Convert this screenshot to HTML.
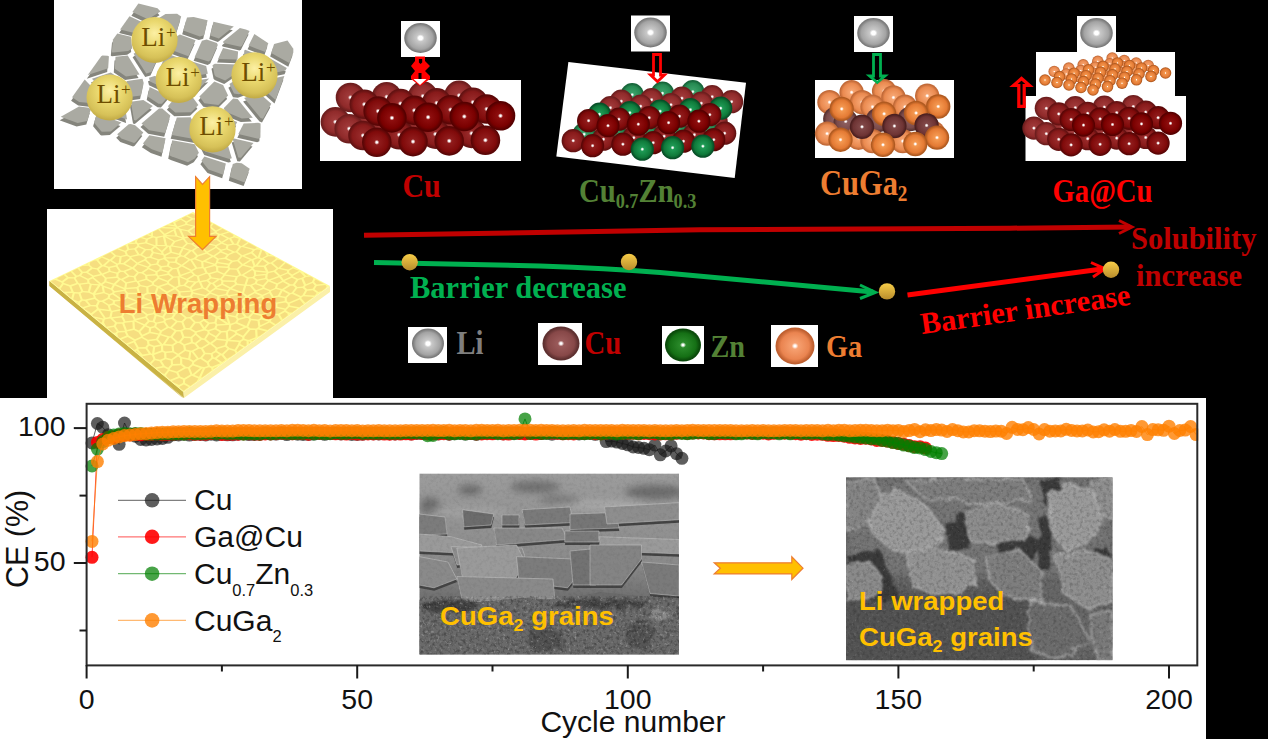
<!DOCTYPE html>
<html><head><meta charset="utf-8"><style>
html,body{margin:0;padding:0;background:#000;width:1268px;height:739px;overflow:hidden}
svg{display:block}
text{font-family:"Liberation Sans",sans-serif}
.serif{font-family:"Liberation Serif",serif}
</style></head><body>
<svg width="1268" height="739" viewBox="0 0 1268 739">
<defs><radialGradient id="lig" cx="0.5" cy="0.38" r="0.6" fx="0.5" fy="0.35"><stop offset="0" stop-color="#fcf0a4"/><stop offset="0.45" stop-color="#ead86e"/><stop offset="0.85" stop-color="#d6c158"/><stop offset="1" stop-color="#c4ad48"/></radialGradient><radialGradient id="cu0" cx="0.5" cy="0.5" r="0.5"><stop offset="0" stop-color="#ffffff"/><stop offset="0.05" stop-color="#ffffff"/><stop offset="0.17" stop-color="#8e0e0e"/><stop offset="0.72" stop-color="#7a0000"/><stop offset="0.93" stop-color="#560000"/><stop offset="1" stop-color="#560000"/></radialGradient><radialGradient id="cu1" cx="0.5" cy="0.5" r="0.5"><stop offset="0" stop-color="#ffffff"/><stop offset="0.05" stop-color="#ffffff"/><stop offset="0.17" stop-color="#901c1c"/><stop offset="0.72" stop-color="#800a0a"/><stop offset="0.93" stop-color="#5a0606"/><stop offset="1" stop-color="#5a0606"/></radialGradient><radialGradient id="cu2" cx="0.5" cy="0.5" r="0.5"><stop offset="0" stop-color="#ffffff"/><stop offset="0.05" stop-color="#ffffff"/><stop offset="0.17" stop-color="#982a2a"/><stop offset="0.72" stop-color="#881a1a"/><stop offset="0.93" stop-color="#641212"/><stop offset="1" stop-color="#641212"/></radialGradient><radialGradient id="cu3" cx="0.5" cy="0.5" r="0.5"><stop offset="0" stop-color="#ffffff"/><stop offset="0.05" stop-color="#ffffff"/><stop offset="0.17" stop-color="#a03a3a"/><stop offset="0.72" stop-color="#902a2a"/><stop offset="0.93" stop-color="#6e1e1e"/><stop offset="1" stop-color="#6e1e1e"/></radialGradient><radialGradient id="zn0" cx="0.5" cy="0.5" r="0.5"><stop offset="0" stop-color="#ffffff"/><stop offset="0.05" stop-color="#ffffff"/><stop offset="0.17" stop-color="#1e9a55"/><stop offset="0.72" stop-color="#0f7a3a"/><stop offset="0.93" stop-color="#075028"/><stop offset="1" stop-color="#075028"/></radialGradient><radialGradient id="zn1" cx="0.5" cy="0.5" r="0.5"><stop offset="0" stop-color="#ffffff"/><stop offset="0.05" stop-color="#ffffff"/><stop offset="0.17" stop-color="#3aa068"/><stop offset="0.72" stop-color="#268a52"/><stop offset="0.93" stop-color="#16653a"/><stop offset="1" stop-color="#16653a"/></radialGradient><radialGradient id="ga0" cx="0.5" cy="0.5" r="0.5"><stop offset="0" stop-color="#ffffff"/><stop offset="0.05" stop-color="#ffffff"/><stop offset="0.17" stop-color="#f49850"/><stop offset="0.72" stop-color="#e47a34"/><stop offset="0.93" stop-color="#b05a20"/><stop offset="1" stop-color="#b05a20"/></radialGradient><radialGradient id="ga1" cx="0.5" cy="0.5" r="0.5"><stop offset="0" stop-color="#ffffff"/><stop offset="0.05" stop-color="#ffffff"/><stop offset="0.17" stop-color="#f6a470"/><stop offset="0.72" stop-color="#ea8a50"/><stop offset="0.93" stop-color="#c26a38"/><stop offset="1" stop-color="#c26a38"/></radialGradient><radialGradient id="br0" cx="0.5" cy="0.5" r="0.5"><stop offset="0" stop-color="#ffffff"/><stop offset="0.05" stop-color="#ffffff"/><stop offset="0.17" stop-color="#804848"/><stop offset="0.72" stop-color="#6e3434"/><stop offset="0.93" stop-color="#4c2020"/><stop offset="1" stop-color="#4c2020"/></radialGradient><radialGradient id="br1" cx="0.5" cy="0.5" r="0.5"><stop offset="0" stop-color="#ffffff"/><stop offset="0.05" stop-color="#ffffff"/><stop offset="0.17" stop-color="#8c5e5e"/><stop offset="0.72" stop-color="#7a4a4a"/><stop offset="0.93" stop-color="#5a3434"/><stop offset="1" stop-color="#5a3434"/></radialGradient><radialGradient id="li" cx="0.5" cy="0.5" r="0.5"><stop offset="0" stop-color="#fff"/><stop offset="0.12" stop-color="#fff"/><stop offset="0.24" stop-color="#c8c8c8"/><stop offset="0.75" stop-color="#a4a4a4"/><stop offset="0.95" stop-color="#7a7a7a"/><stop offset="1" stop-color="#7a7a7a"/></radialGradient><radialGradient id="licu" cx="0.5" cy="0.5" r="0.5"><stop offset="0" stop-color="#ffffff"/><stop offset="0.05" stop-color="#ffffff"/><stop offset="0.17" stop-color="#9a5a5a"/><stop offset="0.72" stop-color="#874848"/><stop offset="0.93" stop-color="#5e3030"/><stop offset="1" stop-color="#5e3030"/></radialGradient><radialGradient id="lizn" cx="0.5" cy="0.5" r="0.5"><stop offset="0" stop-color="#ffffff"/><stop offset="0.05" stop-color="#ffffff"/><stop offset="0.17" stop-color="#2a8a2a"/><stop offset="0.72" stop-color="#157015"/><stop offset="0.93" stop-color="#0a4a0a"/><stop offset="1" stop-color="#0a4a0a"/></radialGradient><radialGradient id="liga" cx="0.5" cy="0.5" r="0.5"><stop offset="0" stop-color="#ffffff"/><stop offset="0.05" stop-color="#ffffff"/><stop offset="0.17" stop-color="#f6a070"/><stop offset="0.72" stop-color="#ea8450"/><stop offset="0.93" stop-color="#c06030"/><stop offset="1" stop-color="#c06030"/></radialGradient><linearGradient id="gold" x1="0" y1="0" x2="0" y2="1"><stop offset="0" stop-color="#f7cd48"/><stop offset="1" stop-color="#b88c2c"/></linearGradient><clipPath id="sem1c"><rect x="419.3" y="473.4" width="259.7" height="181.2"/></clipPath>
<filter id="blur3" x="-50%" y="-50%" width="200%" height="200%"><feGaussianBlur stdDeviation="3.5"/></filter>
<filter id="blur1"><feGaussianBlur stdDeviation="0.6"/></filter>
<filter id="noise1" x="0" y="0" width="100%" height="100%"><feTurbulence type="fractalNoise" baseFrequency="0.3" numOctaves="3" seed="3"/><feColorMatrix type="matrix" values="0 0 0 0 0  0 0 0 0 0  0 0 0 0 0  0 0 0 -2.6 1.45"/><feGaussianBlur stdDeviation="0.5"/></filter>
<filter id="noiseL" x="0" y="0" width="100%" height="100%"><feTurbulence type="fractalNoise" baseFrequency="0.35" numOctaves="3" seed="21"/><feColorMatrix type="matrix" values="0 0 0 0 1  0 0 0 0 1  0 0 0 0 1  0 0 0 -3.2 1.3"/><feGaussianBlur stdDeviation="0.5"/></filter>
<filter id="rough" x="-20%" y="-20%" width="140%" height="140%"><feTurbulence type="fractalNoise" baseFrequency="0.12" numOctaves="2" seed="5" result="t"/><feDisplacementMap in="SourceGraphic" in2="t" scale="9"/><feGaussianBlur stdDeviation="0.9"/></filter>
<linearGradient id="sem1g" x1="0" y1="0" x2="0" y2="1"><stop offset="0" stop-color="#9c9c9c"/><stop offset="0.3" stop-color="#929292"/><stop offset="0.5" stop-color="#8a8a8a"/><stop offset="0.7" stop-color="#6e6e6e"/><stop offset="1" stop-color="#6a6a6a"/></linearGradient><clipPath id="sem2c"><rect x="846" y="477.3" width="266.6" height="182.9"/></clipPath>
<filter id="rough2" x="-30%" y="-30%" width="160%" height="160%"><feTurbulence type="fractalNoise" baseFrequency="0.08" numOctaves="3" seed="8" result="t"/><feDisplacementMap in="SourceGraphic" in2="t" scale="10"/><feGaussianBlur stdDeviation="1.0"/></filter>
<filter id="blur2" x="-50%" y="-50%" width="200%" height="200%"><feGaussianBlur stdDeviation="5"/></filter></defs>
<rect width="1268" height="739" fill="#000"/>
<rect x="54" y="0" width="248" height="189" fill="#fff"/><g fill="#85857d"><polygon points="146.9,22.9 159.5,15.2 156.5,11.8 137.4,7.2 131.4,15.7"/><polygon points="119.1,33.1 132.3,36.3 143.4,28.8 143.6,26.8 128.5,19.8"/><polygon points="116.3,37.1 112,43.1 110.8,55.8 112,56.2 127.2,54.7 131.2,52.1 129.9,40.4"/><polygon points="86.8,78.7 107.2,71.9 107.9,59.8 106.5,59.3 101.4,59.2 100.2,59.8"/><polygon points="103.1,95.4 108.5,94.8 119.7,82.8 109.8,76 90.9,82.4"/><polygon points="83.7,83.1 71.1,100.8 78.2,105.6 88.6,106.7 97.5,97.7"/><polygon points="59.8,120.3 60.1,120.6 76.6,126.5 86.3,124.5 89.6,113.6 88.1,111.3 78,110.2"/><polygon points="176.1,17.4 164.5,17.6 149.9,26.6 149.7,28.5 167.7,38.8 175.9,34.3 180.2,20.2"/><polygon points="136.3,39.6 137.6,50.6 160.6,50.4 163.9,42.6 146.5,32.6"/><polygon points="145.2,77.1 150.5,75.5 159.6,55 135.8,55.1 132.6,57.3"/><polygon points="114.5,60.4 113.8,72.4 125,80.1 138.6,78 126.7,59.2"/><polygon points="141.5,82.3 126.1,84.6 115.4,96.3 126.5,100.9 140.1,99 142.7,86.6"/><polygon points="94.3,109.6 95.8,112 126,123 126.1,123 122.9,104.7 110.1,99.3 103.7,100"/><polygon points="109.8,135.1 120.4,126.1 95.8,117 93.1,126.3 100.4,135 101.5,135.4"/><polygon points="186,21.2 182.2,34.2 198.8,40.1 203.2,38.8 206.6,23.9 192.6,20.5"/><polygon points="170.2,43 166.5,52 187.4,59.8 194.6,43.9 178.9,38.2"/><polygon points="157.3,75.5 173.3,77.8 183.3,63.6 165.4,56.8"/><polygon points="148,81.3 149,85.2 172,96 176.7,93.6 174.9,84.9 173,82.5 153.5,79.6"/><polygon points="146.7,100.1 157.6,107.3 160.9,107.4 167.7,99.6 148.6,90.6"/><polygon points="134.8,124 151.8,109.7 142.3,103.5 129.8,105.3 133,123.5"/><polygon points="116.2,137.8 120.4,142.1 133.1,146.6 134.7,145.7 142.3,136 134.1,128.8 129.8,127.6 127.7,127.8"/><polygon points="209.3,39 217.9,42 232.8,30.2 212.4,25.3"/><polygon points="200.9,44.4 193.6,60.8 207.6,65 210.2,63.4 216.8,48.6 215.9,46.6 205.6,43"/><polygon points="178.7,80.4 179.7,81.5 206.8,77.4 205.2,69.5 189.6,64.7"/><polygon points="208.2,82.2 181.7,86.1 183.2,93.1 193.4,96.8"/><polygon points="190.1,115.8 197.4,108.7 192.2,101.7 180.6,97.5 174.7,100.6 166.9,109.8 174.3,116.2"/><polygon points="161.3,112.2 158,112.1 140.5,127.1 148.2,133.8 164.2,136.7 169.4,119.2"/><polygon points="164.6,141.8 148.4,138.8 141.9,147.2 150.8,152.9 161.5,156.7"/><polygon points="222,45.3 222.5,46.5 239.6,50.4 241.2,49.2 248.6,34.6 244.8,33 238.9,31.6"/><polygon points="222,51.5 217.1,62.6 236.5,63.2 237.1,55"/><polygon points="237.7,68.2 213.8,67.3 211.5,68.8 213.5,78.5 214.7,80.1 224.2,84 241.5,72.3"/><polygon points="198.4,100.2 203.3,106.8 217.4,108.6 227.1,99 222.1,88.7 213.3,85.1"/><polygon points="212.2,134 218.8,117.2 216.7,113.6 202.8,111.8 195.7,118.9 204,135.9"/><polygon points="170.7,138.7 194.4,142.9 198.4,138.5 189.7,120.8 175.8,121.1"/><polygon points="193.7,162.2 197.9,156.4 193.7,147.9 171.2,143.8 168.2,158.8 170.8,160 187.1,165.8"/><polygon points="264.3,55.6 267.3,46.8 253.4,37.6 247.6,49.2"/><polygon points="242.6,65 247.5,70.4 249.7,70.8 260.1,59.6 244.2,53.4 243.3,54.1"/><polygon points="246.5,75.4 228.4,87.7 233,97.2 237.9,97.8 255.7,91.4 256.6,82.8 249.3,75.9"/><polygon points="232.1,102.2 222.7,111.8 224.7,115.4 240.8,122 251.8,121.4 236.6,102.7"/><polygon points="236.2,125.7 224.3,120.8 219,134.8 227.7,138 230.2,137.2"/><polygon points="204.2,155 228.4,162.6 230.8,161.9 225,142.5 215,138.8 204.3,141.4 199.8,146.4"/><polygon points="207.5,173.1 222.2,178.3 224.9,167 203.4,160.1 200.4,164.3"/><polygon points="292.3,52.4 286.5,44.1 273.1,47.7 270.2,56.5 288.3,66.7 292.3,56.1"/><polygon points="266.6,60.6 254.9,73.5 260.9,79.1 284.5,74.2 285.8,71.5"/><polygon points="261.9,92.3 274.5,103.6 283.4,79.7 262.7,84"/><polygon points="243.1,101.6 259.5,121.6 262,122.4 270.3,107.4 257.9,96.3"/><polygon points="257.2,126.4 242.7,127.1 237.3,137.7 257.1,142.3 259.4,141.3 259.6,127.1"/><polygon points="233.2,142.1 231.7,142.5 237.3,161.2 239.9,161.4 252.5,146.6"/><polygon points="228.8,180.7 243.6,186 248.7,172.4 240.7,166.8 235.6,166.4 231.8,167.5"/></g><g fill="#aaaaa2"><polygon points="147.9,19.3 160.5,11.6 157.5,8.2 138.4,3.6 132.4,12.1"/><polygon points="120.1,29.5 133.3,32.7 144.4,25.2 144.6,23.2 129.5,16.2"/><polygon points="117.3,33.5 113,39.5 111.8,52.2 113,52.6 128.2,51.1 132.2,48.5 130.9,36.8"/><polygon points="87.8,75.1 108.2,68.3 108.9,56.2 107.5,55.7 102.4,55.6 101.2,56.2"/><polygon points="104.1,91.8 109.5,91.2 120.7,79.2 110.8,72.4 91.9,78.8"/><polygon points="84.7,79.5 72.1,97.2 79.2,102 89.6,103.1 98.5,94.1"/><polygon points="60.8,116.7 61.1,117 77.6,122.9 87.3,120.9 90.6,110 89.1,107.7 79,106.6"/><polygon points="177.1,13.8 165.5,14 150.9,23 150.7,24.9 168.7,35.2 176.9,30.7 181.2,16.6"/><polygon points="137.3,36 138.6,47 161.6,46.8 164.9,39 147.5,29"/><polygon points="146.2,73.5 151.5,71.9 160.6,51.4 136.8,51.5 133.6,53.7"/><polygon points="115.5,56.8 114.8,68.8 126,76.5 139.6,74.4 127.7,55.6"/><polygon points="142.5,78.7 127.1,81 116.4,92.7 127.5,97.3 141.1,95.4 143.7,83"/><polygon points="95.3,106 96.8,108.4 127,119.4 127.1,119.4 123.9,101.1 111.1,95.7 104.7,96.4"/><polygon points="110.8,131.5 121.4,122.5 96.8,113.4 94.1,122.7 101.4,131.4 102.5,131.8"/><polygon points="187,17.6 183.2,30.6 199.8,36.5 204.2,35.2 207.6,20.3 193.6,16.9"/><polygon points="171.2,39.4 167.5,48.4 188.4,56.2 195.6,40.3 179.9,34.6"/><polygon points="158.3,71.9 174.3,74.2 184.3,60 166.4,53.2"/><polygon points="149,77.7 150,81.6 173,92.4 177.7,90 175.9,81.3 174,78.9 154.5,76"/><polygon points="147.7,96.5 158.6,103.7 161.9,103.8 168.7,96 149.6,87"/><polygon points="135.8,120.4 152.8,106.1 143.3,99.9 130.8,101.7 134,119.9"/><polygon points="117.2,134.2 121.4,138.5 134.1,143 135.7,142.1 143.3,132.4 135.1,125.2 130.8,124 128.7,124.2"/><polygon points="210.3,35.4 218.9,38.4 233.8,26.6 213.4,21.7"/><polygon points="201.9,40.8 194.6,57.2 208.6,61.4 211.2,59.8 217.8,45 216.9,43 206.6,39.4"/><polygon points="179.7,76.8 180.7,77.9 207.8,73.8 206.2,65.9 190.6,61.1"/><polygon points="209.2,78.6 182.7,82.5 184.2,89.5 194.4,93.2"/><polygon points="191.1,112.2 198.4,105.1 193.2,98.1 181.6,93.9 175.7,97 167.9,106.2 175.3,112.6"/><polygon points="162.3,108.6 159,108.5 141.5,123.5 149.2,130.2 165.2,133.1 170.4,115.6"/><polygon points="165.6,138.2 149.4,135.2 142.9,143.6 151.8,149.3 162.5,153.1"/><polygon points="223,41.7 223.5,42.9 240.6,46.8 242.2,45.6 249.6,31 245.8,29.4 239.9,28"/><polygon points="223,47.9 218.1,59 237.5,59.6 238.1,51.4"/><polygon points="238.7,64.6 214.8,63.7 212.5,65.2 214.5,74.9 215.7,76.5 225.2,80.4 242.5,68.7"/><polygon points="199.4,96.6 204.3,103.2 218.4,105 228.1,95.4 223.1,85.1 214.3,81.5"/><polygon points="213.2,130.4 219.8,113.6 217.7,110 203.8,108.2 196.7,115.3 205,132.3"/><polygon points="171.7,135.1 195.4,139.3 199.4,134.9 190.7,117.2 176.8,117.5"/><polygon points="194.7,158.6 198.9,152.8 194.7,144.3 172.2,140.2 169.2,155.2 171.8,156.4 188.1,162.2"/><polygon points="265.3,52 268.3,43.2 254.4,34 248.6,45.6"/><polygon points="243.6,61.4 248.5,66.8 250.7,67.2 261.1,56 245.2,49.8 244.3,50.5"/><polygon points="247.5,71.8 229.4,84.1 234,93.6 238.9,94.2 256.7,87.8 257.6,79.2 250.3,72.3"/><polygon points="233.1,98.6 223.7,108.2 225.7,111.8 241.8,118.4 252.8,117.8 237.6,99.1"/><polygon points="237.2,122.1 225.3,117.2 220,131.2 228.7,134.4 231.2,133.6"/><polygon points="205.2,151.4 229.4,159 231.8,158.3 226,138.9 216,135.2 205.3,137.8 200.8,142.8"/><polygon points="208.5,169.5 223.2,174.7 225.9,163.4 204.4,156.5 201.4,160.7"/><polygon points="293.3,48.8 287.5,40.5 274.1,44.1 271.2,52.9 289.3,63.1 293.3,52.5"/><polygon points="267.6,57 255.9,69.9 261.9,75.5 285.5,70.6 286.8,67.9"/><polygon points="262.9,88.7 275.5,100 284.4,76.1 263.7,80.4"/><polygon points="244.1,98 260.5,118 263,118.8 271.3,103.8 258.9,92.7"/><polygon points="258.2,122.8 243.7,123.5 238.3,134.1 258.1,138.7 260.4,137.7 260.6,123.5"/><polygon points="234.2,138.5 232.7,138.9 238.3,157.6 240.9,157.8 253.5,143"/><polygon points="229.8,177.1 244.6,182.4 249.7,168.8 241.7,163.2 236.6,162.8 232.8,163.9"/></g><circle cx="154.5" cy="40" r="23.1" fill="url(#lig)"/><text class="serif" x="141.3" y="45.6" font-size="27" fill="#6e4e00">Li</text><text class="serif" x="166" y="37.8" font-size="17" fill="#6e4e00">+</text><circle cx="178.7" cy="80" r="23.1" fill="url(#lig)"/><text class="serif" x="165.5" y="85.6" font-size="27" fill="#6e4e00">Li</text><text class="serif" x="190.2" y="77.8" font-size="17" fill="#6e4e00">+</text><circle cx="254.5" cy="75.3" r="23.1" fill="url(#lig)"/><text class="serif" x="241.3" y="80.9" font-size="27" fill="#6e4e00">Li</text><text class="serif" x="266" y="73.1" font-size="17" fill="#6e4e00">+</text><circle cx="109.6" cy="97.5" r="23.1" fill="url(#lig)"/><text class="serif" x="96.4" y="103.1" font-size="27" fill="#6e4e00">Li</text><text class="serif" x="121.1" y="95.3" font-size="17" fill="#6e4e00">+</text><circle cx="212.5" cy="129.4" r="23.1" fill="url(#lig)"/><text class="serif" x="199.3" y="135" font-size="27" fill="#6e4e00">Li</text><text class="serif" x="224" y="127.2" font-size="17" fill="#6e4e00">+</text><rect x="47" y="209" width="286" height="189" fill="#fff"/><polygon points="49.5,281 183.5,398 183.5,398 181.5,397 49.5,286" fill="#d9c255"/><polygon points="49.5,281 183.5,392 184,398 49.5,286" fill="#c9b244"/><polygon points="183.5,392 330,286 330,292 184,398" fill="#fbf0a8"/><polygon points="193,212 330,286 183.5,392 49.5,281" fill="#fffa92"/><g fill="#f6de80"><polygon points="174.2,225.1 173,222.5 172.9,222.5 169.1,224.3"/><polygon points="150.8,233.1 148.5,234.3 150.8,235"/><polygon points="130.8,242.8 135.1,242.5 134.7,241.1 134.4,241"/><polygon points="87.7,263.5 85.7,264.5 87.7,264.4"/><polygon points="193.4,213 193,212.8 192.8,212.9"/><polygon points="193,218.2 194.4,218.2 198.6,215.9 198.1,215.5 191.2,213.7 187.5,215.4"/><polygon points="181.8,218.8 186.4,221.4 191,218.8 185.9,216.2 181.8,218.2"/><polygon points="185.3,222.4 180.7,219.8 175.2,222.5 176.8,225.7 177.6,226.5 185.1,224.1"/><polygon points="175.6,227.6 176.1,227.4 175.1,226.5 167.2,225.2 163.2,227.1"/><polygon points="159.9,229 164.8,233.7 173.5,229.2 174.1,228.7 161,228.2 160.3,228.5"/><polygon points="158.1,229.6 153,232 153,235.8 153.5,236.3 156.3,236.8 163.2,235.5 163.3,235.3 163.4,234.8"/><polygon points="151.2,236.4 146.8,235.1 142.4,237.2 146.8,238.4 151.4,236.6"/><polygon points="136.8,241 137.4,242.8 138.1,243.2 145,242.2 145.8,239.4 140.7,238 138.4,239.1"/><polygon points="137.3,246.1 136.8,244.2 136,243.7 128.4,244.2 127.9,244.8 129.2,248.7 134.3,248.2"/><polygon points="126,245.5 124.8,245.6 118.9,248.5 125.1,250.7 127.2,249.3"/><polygon points="116,255.3 120.4,256 125.7,254.7 124.5,251.9 117.3,249.3 112,251.8"/><polygon points="109.9,259.6 114.1,255.8 110.4,252.6 102.7,256.3 102.6,256.4 102.6,256.4"/><polygon points="98.3,259.9 102.6,265.1 102.9,265.1 108.1,260.4 101.8,257.6"/><polygon points="97,268.3 100.7,265.6 96.4,260.4 94.2,260.4 90,262.5 89.8,264.9 92.7,267.4"/><polygon points="82.8,271.7 86,271.5 90.7,267.8 88.3,265.7 82.4,266.1 79.2,267.7"/><polygon points="76.6,275.5 79,274.9 81,272.4 77.6,268.4 72.2,271"/><polygon points="65.6,274.5 68.5,277 73.9,277.2 75,276.3 70.6,271.8 65.9,274.1"/><polygon points="66.7,277.5 63.8,275.1 63.8,275.1 58.2,277.7 57,279 62,281.1"/><polygon points="55.4,279.9 52.5,280.5 51,281.2 57.7,286.7 59,287.4 61.9,283.4 61.4,282.4"/><polygon points="196.3,218.9 199.5,221.9 205.2,220.4 199.7,216.9"/><polygon points="194.8,225.7 197.6,223.9 197.9,222.7 194.3,219.4 193,219.4 187.5,222.5 187.3,224.1"/><polygon points="178.4,227.6 180.5,228.8 187.7,230.2 193.3,226.6 186.3,225.1"/><polygon points="177,228.5 176.8,228.6 175.5,229.7 177.5,235.7 182.4,237.2 178.9,229.6"/><polygon points="165.7,234.9 175.2,235.4 173.7,230.8"/><polygon points="164.8,245 162.9,236.8 157.5,237.9 157.6,244.9"/><polygon points="155.3,237.9 153.1,237.4 148,239.4 147.2,242.4 155.1,245.3 155.5,245.1"/><polygon points="153.8,246.2 145.9,243.4 139.1,244.4 139.4,246.1 145.7,249.1 150.6,248.9"/><polygon points="140.2,254.2 144,249.8 138.6,247.3 136.2,249 139.4,254.1"/><polygon points="137.3,254.3 134.3,249.5 129,250.1 126.6,251.8 127.9,254.8 130.2,255.9"/><polygon points="129.6,258 129.1,256.9 126.8,255.9 121.7,257.1 120.9,263 123.1,263.1"/><polygon points="117.3,263.4 118.7,263.1 119.5,257.1 116,256.6 111.9,260.3"/><polygon points="110.1,261 105.2,265.6 108.8,266.7 115.6,265.3 116,264.4"/><polygon points="102.2,273.5 108.5,271 107.8,267.9 103.5,266.5 102.6,266.5 98.8,269.2"/><polygon points="93.4,275.6 100.2,274 96.8,269.6 92.6,268.7 88.1,272.2"/><polygon points="81.2,275.4 88,278.8 91.7,277 92,276.5 86.4,272.9 83,273.1"/><polygon points="79.4,283.5 87.4,282.5 87.1,280 79.8,276.3 77,277 75.7,278.2 78.6,283.1"/><polygon points="76.4,283 73.8,278.6 68.6,278.4 63.5,282.3 63.9,283.1 70.1,285.1"/><polygon points="71.4,291.5 69.3,286.4 63.6,284.5 60.7,288.6 60.8,289.3 63.8,291.8 64.5,291.8"/><polygon points="200,223 199.8,223.7 209.9,225.4 212,223.3 207,221.2"/><polygon points="200.2,229.6 209.3,226.8 209.3,226.5 199,224.8 196.5,226.4"/><polygon points="195,227.4 189.4,230.9 193.5,234.4 198.5,233.2 198.7,230.5"/><polygon points="191.8,235.2 187.4,231.3 181.5,230.3 184.6,237.2 191.7,235.2"/><polygon points="166.2,236.2 174.7,240.7 182,238.5 176.2,236.6"/><polygon points="165.2,237.3 167.1,245.2 168.2,245.5 169.7,245.7 170.4,245.5 173.2,241.6"/><polygon points="156.3,246.4 161.8,250.7 166.3,246.4 165.9,246.3 156.9,246.1"/><polygon points="160.9,252.1 155.1,247.5 152.5,249.7 153.8,252 161.4,253.5"/><polygon points="150.5,250.2 146.1,250.3 142.2,254.8 146.4,257.1 149.5,256.6 151.8,252.4"/><polygon points="144.3,259.3 144.9,258 140.4,255.5 138.9,255.4 131.4,257 131.7,258 137.4,262.4"/><polygon points="136.2,263.5 136.2,263.5 130.8,259.3 125.2,263.7 132.4,267.2"/><polygon points="123.3,264.4 120,264.2 118.1,264.7 117.7,265.9 120.8,270.6 123.6,270.7 130.7,268"/><polygon points="117.1,272.5 118.8,271.1 116,266.7 110,267.9 110.6,270.9"/><polygon points="116.2,276.6 116.4,273.7 109.8,272.1 103.4,274.7 106.1,277.4"/><polygon points="101.5,275.2 94.1,277 93.9,277.4 101.2,283.5 104.2,281.2 104.6,278.2"/><polygon points="99.4,284.3 92.6,278.4 89.2,280.1 89.6,282.8 91.2,283.7 99.4,284.3"/><polygon points="87.9,291.3 89.7,284.6 88.4,283.8 80.6,284.8 83.3,290.9"/><polygon points="81.2,291.2 78.4,284.6 77.7,284.3 71.5,286.4 73.7,291.7 74.1,291.9 79,292.3"/><polygon points="72.7,292.9 66.3,293.2 68.3,295.5 71.3,298"/><polygon points="213.7,224.1 211.5,226.2 211.5,226.9 216,230.4 221,227.9 213.9,224.1"/><polygon points="205.5,234.7 214.6,232.3 214.6,231.4 210.1,227.9 200.9,230.7 200.7,233.2"/><polygon points="198.1,240.5 202.4,240.7 204.1,235.6 199.5,234.2 193.8,235.7 193.7,235.8"/><polygon points="184.6,238.6 184.6,238.7 188,242.9 191.5,243.4 196.1,240.9 192,236.5"/><polygon points="182.1,247 186,243.4 183,239.6 175.4,241.9 172.8,245.6"/><polygon points="171.1,246.8 172,251.8 178.9,253.5 181.7,248.3 171.4,246.6"/><polygon points="168.9,246.9 168.4,246.8 163.1,252 163.9,254.1 164.7,254.6 169.8,252"/><polygon points="153.7,253.3 151.7,256.9 158.7,259.2 163.4,257.9 163.5,257.7 163.6,255.7 162.3,255"/><polygon points="151.2,264.3 156.2,263.4 157.5,260.3 150.3,257.9 147.1,258.3 146.4,259.7"/><polygon points="138.7,263.5 147.8,266.5 149.5,265 145,260.7"/><polygon points="141.6,272.1 147.2,268.2 147.2,267.7 137.7,264.6 134.2,268.1 138.8,271.9"/><polygon points="132.5,268.9 125.5,271.7 129.4,275.4 133.8,276 137,272.6"/><polygon points="121.3,278.8 127.4,275.8 123.4,272.1 120.6,271.9 118.6,273.6 118.4,277 120.5,278.5"/><polygon points="118.5,279.1 116.9,277.9 106.7,278.7 106.4,281.2 113.7,283.5"/><polygon points="102.5,284.8 103.3,285.6 111,288.2 112.9,284.7 105.6,282.4"/><polygon points="100.5,285.6 95.3,293.4 102.7,292 101.6,286.3 100.8,285.5"/><polygon points="91.8,285.1 90,291.8 93,293.1 98,285.6"/><polygon points="92.8,294.7 88.5,292.7 82.9,292.3 80.6,293.4 82.7,299.3 85.4,299.5 93.8,297.6"/><polygon points="78.5,293.7 74.8,293.4 73.2,299.2 78.6,301.5 80.7,299.7"/><polygon points="76.3,302.1 78,303.5 78,302.8"/><polygon points="216.8,231.5 216.8,232.4 219.5,233.7 220.7,233.8 227.8,231.7 222.5,228.8"/><polygon points="213.4,239.1 216.3,238.8 217.9,234.5 215.4,233.4 207.5,235.5"/><polygon points="206.1,236.4 204.5,241.2 206.6,243.1 207.1,243.1 211.5,239.8"/><polygon points="197.8,241.7 193.4,244.1 197.5,246.8 201.3,246.8 204.7,243.7 202.7,241.9"/><polygon points="183.9,247.8 191,250 191.9,250 195.6,247.4 191.3,244.6 187.8,244.1"/><polygon points="189.1,250.8 183.5,249.1 180.8,254.3 181.6,255.2 183.6,255.7"/><polygon points="178.9,254.9 171.2,253 165.8,255.8 165.7,257.2 176.4,257.2 179.5,255.5"/><polygon points="165.7,258.5 169.5,261.5 174.8,261.6 175.6,258.5"/><polygon points="166.9,265.4 167.8,262.3 163.9,259.2 159.7,260.4 158.3,263.9 161.3,266.1"/><polygon points="156.7,264.7 151.5,265.6 149.3,267.6 149.4,268.1 156.4,271 159.3,269.3 159.7,267"/><polygon points="146.5,274.7 155.4,274.1 155.4,272.2 148.5,269.3 143.6,272.8"/><polygon points="145.4,278.7 145.1,275.6 141.7,273.4 138.9,273.3 135.6,276.9 137,280.7 137.6,280.9"/><polygon points="134.8,280.6 133.5,277.3 129.2,276.7 123.1,279.7 126.4,282.3"/><polygon points="115.7,284.3 124.3,287.8 125,283.3 120.9,280.1 120.3,279.9"/><polygon points="114.8,285.5 112.9,289.2 114.5,291.1 123.7,289.7 123.8,289.2"/><polygon points="103.9,287.3 104.9,292.2 109.3,294 111.8,293 112.8,291.9 111,289.7"/><polygon points="96,297.9 99.4,300.6 101.8,300.6 107.5,297.7 108.2,295.1 103.9,293.3 95,294.9"/><polygon points="90.9,304.9 95.9,305.1 97.7,301.4 94.7,299 87.2,300.7"/><polygon points="83.1,307 88.8,305.2 85,301 82.4,300.7 80.1,302.8 80.3,305.4 80.6,305.7"/><polygon points="233.3,236.4 233.4,234.7 229.4,232.5 222.7,234.5 229,237.8 229.5,237.7"/><polygon points="227,238.5 220.3,235 219.9,234.9 218.3,239.1 221.7,241.7"/><polygon points="209.3,243.4 215.9,245 220.4,242.7 216.7,240 213.5,240.3"/><polygon points="203.2,247.4 207,251.5 215,247 215,246.1 207.4,244.3 206.7,244.3"/><polygon points="193.8,250.7 197.7,255 205.6,252.6 201.3,248 197.5,248"/><polygon points="190.2,259 190.6,259 193.9,258.1 196,255.9 191.8,251.2 191.3,251.2 185.5,256.4"/><polygon points="181,256.4 177.8,258.2 177,262.1 181.6,264.8 188.3,259.7 183.5,257"/><polygon points="176.9,267.7 180.1,265.7 175.3,263 169.9,262.8 169,265.8 172.8,267.9"/><polygon points="167.5,266.7 161.9,267.4 161.5,269.3 167.9,271.3 171,268.6"/><polygon points="160.6,270.4 157.6,272.2 157.6,274.6 158.4,275.4 167.5,273.6 167.2,272.6"/><polygon points="157.3,277.8 157,276.4 156,275.5 147.3,276 147.5,278.8 152.6,281.5"/><polygon points="147.1,286.2 151.9,284.4 151.7,282.8 146.4,280 138.9,282.1 140.7,284.9"/><polygon points="136.6,282.1 135.9,281.8 127.1,283.6 126.5,287.8 136.7,287 138.7,285.3"/><polygon points="126,289.2 125.8,290.2 128,292.8 137.8,292.7 136.5,288.4"/><polygon points="114.8,292.6 114,293.5 122.6,299.2 126,297 126.2,293.7 124.2,291.1"/><polygon points="114.1,300 120,299.4 112.6,294.5 110.4,295.3 109.7,297.9"/><polygon points="112.6,303.3 112.8,301.1 108.7,299.1 104,301.5 108.8,304.4"/><polygon points="99,308.6 109,309.7 107.7,305.6 102,302.1 99.8,302.1 97.9,305.9"/><polygon points="84.4,308.3 85,309.2 91.1,313.3 96.9,308.8 95.9,306.5 90.7,306.3"/><polygon points="235.5,236.3 237.5,236.9 235.5,235.8"/><polygon points="238.8,238.7 234.4,237.4 231.2,238.6 234.4,243.7 236.3,243.8"/><polygon points="222.9,242.7 227.8,244.5 232.1,243.8 229.1,239 229,239"/><polygon points="226.4,245.5 221.6,243.7 217.2,245.9 217.2,247 221.2,249.6 225.7,248.5"/><polygon points="216,248.1 207.9,252.7 213.4,255.5 219.4,251.4 219.7,250.6"/><polygon points="196.1,258.4 202.4,260.9 203.6,260.6 211.3,256.2 206.6,253.8 198.1,256.4"/><polygon points="197.1,267.5 201.5,267.1 201.2,262 194.6,259.4 192.2,259.9"/><polygon points="190.2,260.3 183.2,265.6 191.5,269.7 195.1,268"/><polygon points="190.3,271.3 190.4,270.9 181.8,266.6 178.6,268.6 180.7,274.8"/><polygon points="178.6,276 178.8,275.8 176.5,269 173,269.2 169.4,272.4 169.7,273.8 173.5,276.4 178.1,276.2"/><polygon points="168.3,274.9 159.2,276.6 159.4,277.6 167.5,280.7 171.7,277.2"/><polygon points="154.1,284.4 158.1,286.1 167,283.1 166.8,282 158.7,278.9 153.9,282.7"/><polygon points="148.4,287.3 148.7,292.5 154.6,293.1 156.7,287.1 153,285.6"/><polygon points="138.5,287.8 140.1,293 143.2,294.6 146.5,292.8 146.2,287.4 140.4,286.2"/><polygon points="137.8,300.7 142.2,297.5 142.2,295.8 138.8,294.1 128.4,294.3 128.2,297"/><polygon points="136.1,301.7 127.3,298.3 124,300.3 125.1,305.6 126.4,305.6"/><polygon points="121.9,300.7 115,301.4 114.7,303.5 121.8,307.4 123.1,306.1"/><polygon points="112,310.7 120.6,309.1 120.8,308.6 113.5,304.7 109.9,305.8 111.4,310.3"/><polygon points="100.5,310.2 105.7,317.7 109.4,317.1 110.6,311.7 109.9,311.3"/><polygon points="98.2,310.2 92.3,314.7 92.5,315.5 93.3,316.2 103.4,318.4 103.8,318.3"/><polygon points="95.9,318.3 100.9,322.5 102,322.2 102.5,319.8"/><polygon points="241,238.9 238.3,244.3 240.9,246 241.7,245.9 247.4,242.3 241.1,238.9"/><polygon points="233.5,244.8 228.5,245.7 227.9,248.6 234.4,251.4 235.8,251.3 239.1,246.8 236.5,245.1"/><polygon points="221.9,250.8 221.7,251.3 228.2,253.9 232.2,252.1 226.5,249.6"/><polygon points="220.6,252.5 215.1,256.3 218.3,258.4 224.6,257.6 226.8,254.9"/><polygon points="213.1,256.9 206,261 214.8,263.7 215.8,262.3 216.7,259.3"/><polygon points="204.1,261.9 203.4,262 203.7,267.2 204.4,267.5 213.5,264.8"/><polygon points="196.9,268.8 192.6,270.9 192.5,271.6 195.3,274.4 197.8,275.4 205.3,272.7 203.4,268.7 202.4,268.3"/><polygon points="180.9,276.3 186.7,278.7 193.1,274.7 191,272.6"/><polygon points="179.6,277.3 180.5,285 183.5,284.7 186.8,281.1 186,280"/><polygon points="173.7,277.8 169,281.8 169.2,283.2 175.3,287.1 178.3,285.5 177.5,277.6"/><polygon points="160.1,287 167,291.6 173.7,288 167.9,284.4"/><polygon points="158.6,288 156.6,293.7 160,295.9 165.3,293.5 165.7,292.7"/><polygon points="144.4,297.4 151.5,300.3 158.8,297.4 158.8,297.1 154.9,294.6 148,293.9 144.4,295.8"/><polygon points="139.3,301.8 141.6,305.6 150.5,302.2 150.5,301.5 143.5,298.7"/><polygon points="139,309.1 140.1,307.2 140,306.8 137.6,302.8 129,306.3 138.2,309.3"/><polygon points="136.6,310.4 126.6,307.1 124.8,307.1 123,308.8 122.7,309.6 124.6,311.6 132.5,314.3"/><polygon points="111.6,317.2 121.2,315.9 122.7,312.2 121.1,310.6 112.7,312.1"/><polygon points="121.4,317.4 112.7,318.6 116.8,322.3 122.6,322.2 123.6,321.7"/><polygon points="110.2,318.6 105.6,319.3 104.7,319.7 104.1,322.8 106.3,326.7 113.7,325.5 115,323.1"/><polygon points="244,246.2 254.4,249 256.5,248.3 256.5,247.2 248.9,243.1"/><polygon points="242.3,255.2 250.8,252.1 252.8,250 242.1,247.1 241.2,247.2 237.7,251.8"/><polygon points="229.1,255.1 226.7,258 232.5,260.6 237.1,260 240.6,256 236,252.6 234.4,252.7"/><polygon points="228.6,263.6 230.7,261.5 225,258.9 218.8,259.6 218.1,262"/><polygon points="216.3,264.9 217.7,266.1 227.4,266.5 227.9,264.9 217.5,263.2 216.3,264.8"/><polygon points="205.7,268.6 207.5,272.5 209,273.1 216.2,271 216,266.9 214.8,265.9"/><polygon points="200.1,281 206.6,279.8 209.6,277.7 208,274.3 206.5,273.8 199,276.6"/><polygon points="195.8,281.4 197.9,281 196.8,276.6 194.6,275.7 188.1,279.7 188.8,280.5"/><polygon points="185.6,285.1 190,287 194.1,282.6 188.6,281.9"/><polygon points="176.6,288.2 179.9,291.2 190.7,290.4 189.4,288.5 183.9,286 179.9,286.5"/><polygon points="178.3,292.2 175,289.2 167.9,292.9 167.5,293.7 174.7,297.6 178.5,295.4"/><polygon points="165.4,302.2 173.5,299.1 173.6,298.8 166.2,294.8 161,297.2 160.9,297.7"/><polygon points="163.4,302.8 159.5,298.8 152.7,301.6 152.7,302.4 155.9,306.9"/><polygon points="143,306.7 154,307.6 151.2,303.6"/><polygon points="154.5,309.1 141.9,308.1 141.1,309.5 147.4,314 153.2,312.9"/><polygon points="145,316.6 145.9,315 139.6,310.5 139,310.7 134,315.4 135.5,318.8"/><polygon points="132.9,320.6 133.5,320.2 133.7,319.8 132,315.7 124.6,313.2 123.2,316.6 125.5,321.2"/><polygon points="117,323.8 115.7,326.2 118.8,330.9 124.9,330.8 125,330.7 122.2,323.8"/><polygon points="115.5,332.8 116.9,331.5 114,327 107.7,328.1 113.3,332.7"/><polygon points="255.1,250.1 252.9,252.4 257.7,256.9 260.3,249.9 257.5,249.4"/><polygon points="255.7,257.6 251.2,253.4 244.5,255.9 251.9,258.9 252,258.9"/><polygon points="242.4,256.6 239.1,260.5 242.8,264.1 249.8,259.7"/><polygon points="229.4,267.1 230.3,268.2 236.8,268.5 241.2,265 237.3,261.3 232.8,261.9 230.2,264.6"/><polygon points="218.4,271.1 224,273.4 228.3,268.8 227.5,267.9 218.2,267.4"/><polygon points="223.3,274.8 217.2,272.2 210.2,274.2 211.7,277.2 219.4,278.4 220.3,278.4 223.3,274.9"/><polygon points="212.4,282.7 217.2,279.5 211.2,278.6 208.6,280.4 211,282.5"/><polygon points="206.8,281.2 201.2,282.2 203.6,287.4 205.7,288.2 209.1,283.2"/><polygon points="198.9,282.3 196.6,282.7 191.5,288.1 192.6,289.8 201.3,287.5"/><polygon points="183.8,296.3 190,295.6 191.3,292.7 191,291.8 180.5,292.6 180.7,295.2"/><polygon points="175.8,298.9 175.7,299.4 179.5,302.9 183.8,304.1 182.6,297.4 179.8,296.5"/><polygon points="170.6,306.6 177.3,303.3 174.2,300.5 167,303.3 170.1,306.5"/><polygon points="156.5,308.5 156.5,308.5 164.5,309.9 168.1,307 164.9,303.8"/><polygon points="156.5,310 155.3,313.3 156.5,314.2 162.4,316.2 164.7,312.5 164.1,311.4"/><polygon points="149.7,320.5 152.7,320.8 154.7,315 153.8,314.3 148,315.5 147,317.2"/><polygon points="135.9,320.4 144.5,324.3 147.7,321.1 145.4,318.1"/><polygon points="134.5,321.6 135,328.8 138.9,330.6 143.4,325.6 134.7,321.5"/><polygon points="124.3,323.3 126.9,329.9 132.8,328.6 132.4,322.1 125.3,322.7"/><polygon points="126.5,335.6 124.8,332.3 118.7,332.4 117.2,333.8 118.2,336.8 120,338.3"/><polygon points="268.9,254.9 270.9,255 268.2,253.5"/><polygon points="262.3,250.3 259.7,257.4 262,257.9 266.8,255.4 264.9,251.7"/><polygon points="255.4,265.3 260.6,259 258.1,258.4 257.4,258.4 253.5,259.9"/><polygon points="251.4,260.5 244.6,264.8 252.4,266.7 253.4,266.1"/><polygon points="242.8,265.8 238.5,269.3 241.2,274.4 242,274.4 251.3,268.8 251.4,267.9"/><polygon points="225.5,274.4 236.7,276 239.1,274.9 236.4,269.8 230.1,269.5"/><polygon points="222.1,279.1 223,280.3 234.3,280.6 235.6,277.2 225,275.7"/><polygon points="220.2,279.8 219.7,279.8 214.1,283.5 216.6,286.1 221.1,283.8 221.2,281.2"/><polygon points="207.4,289.1 210,290.9 214.4,288 215.1,287.2 212.1,284 211,283.9"/><polygon points="193,291.2 193.3,292.2 205.6,295 209,292.6 208.9,292.2 205.4,289.8 202.5,288.6"/><polygon points="194.7,299.4 203.5,297.9 204.5,296.3 193.1,293.7 192,296.1"/><polygon points="186.1,304.5 192.6,300.9 192.9,300.3 190.3,297 184.8,297.6"/><polygon points="177.8,311.7 178.7,311.6 184.8,306.3 184.7,306 184.5,305.8 179,304.3 172.3,307.5"/><polygon points="166.1,310.9 166.7,311.9 174.9,312.9 175.8,312.4 170.1,308 169.8,307.9"/><polygon points="166.5,313.4 164.2,317.2 165.6,318.8 171.3,317.6 173.6,314.3"/><polygon points="162.3,317.8 156.6,315.9 154.8,321.4 156.5,322.4 163.3,321.1 163.9,319.7"/><polygon points="146.3,325.2 150.2,327.1 154.1,326.1 155,323.5 153.1,322.3 149.5,322"/><polygon points="142.4,334.8 148.6,331.9 149,328.3 145.2,326.5 140.4,331.8"/><polygon points="126.8,331.7 128.7,335.6 135,339.3 140.7,336.7 140.8,336.1 138.4,332.2 133.8,330 126.9,331.6"/><polygon points="133.5,340.8 133.6,340.5 127.7,337 121.5,339.5 126.3,343.5"/><polygon points="263.7,258.6 269.2,262.6 270.9,262.4 276,258.8 274.7,257.1 273.6,256.5 268.3,256.2"/><polygon points="262.3,259.8 257.6,265.4 264.1,265.6 267.3,263.4"/><polygon points="253.6,267.7 253.5,268.8 255.4,270.3 265.8,271.2 263.7,266.9 256,266.7 255.2,266.9"/><polygon points="244,275.1 248.2,277.3 252.5,276.9 254.1,275.4 253.7,271.3 252.2,270.1"/><polygon points="236.3,281.2 237.2,283.6 244.5,284.4 246.6,278.3 241.9,275.8 240.6,275.8 237.8,277.1"/><polygon points="234.2,282 223.3,281.7 223.3,283.8 230.3,287.2 235,284.1"/><polygon points="222.2,285 217.2,287.6 216.8,288 227.7,289.9 229.1,288.4"/><polygon points="226.9,291.2 215.6,289.2 211.1,292.1 211.2,292.4 218.7,295.2 225.7,293.9"/><polygon points="207.7,301.9 217,299.6 217.3,296.3 210.3,293.7 206.9,296.2 205.5,298.4 207.6,301.9"/><polygon points="201.4,306.1 201.5,306.1 205.5,302.4 203.6,299.3 194.9,300.8 194.7,301.2"/><polygon points="187,306.2 193.8,309.4 199.3,306.8 193.3,302.3 186.9,306"/><polygon points="192.8,310.7 186.1,307.6 180.7,312.3 186.7,317.2 189.8,317 193.7,314"/><polygon points="173.5,318.1 177.4,320.7 181.7,321 184.8,318 178.8,313.1 177.8,313.1 176.1,314.2"/><polygon points="165.4,321.7 168.7,326.6 170.3,326.9 175.6,321.5 171.8,319.1 166,320.2"/><polygon points="157.1,323.8 156.2,326.5 161,330.2 166.6,327 163.6,322.6"/><polygon points="159.1,333.4 159.7,331.5 154.7,327.6 151.1,328.5 150.8,331.8"/><polygon points="142.9,336.9 148.1,339.7 156,338.7 158.4,334.8 149.9,333.2 143,336.4"/><polygon points="145.4,347.1 147.4,344.5 146.9,340.9 141.7,338.1 135.8,340.8 135.5,341.4 138.7,347.2"/><polygon points="136.2,349.1 136.8,348 133.8,342.5 127.8,344.7 134.1,349.9"/><polygon points="283.9,262 279.9,259.9 277.6,259.6 272.8,262.9 278.4,267.7 284.1,262.2"/><polygon points="268.4,271.6 268.4,271.7 273.9,270.6 276.5,268.6 270.9,263.7 269.2,263.9 265.8,266.3"/><polygon points="256.2,274.7 265.9,273.8 266.7,272.7 256,271.8"/><polygon points="265.4,275.2 255.8,276.1 254.5,277.4 257.5,279.4 265.1,278"/><polygon points="255.8,280.4 252.6,278.3 248.7,278.6 246.7,284.6 250.4,284.7 254.6,283.1"/><polygon points="231.9,288.2 242.2,291.9 244,285.8 236.6,285"/><polygon points="241,293.2 230.7,289.4 229.2,291 227.8,294.2 229,295"/><polygon points="226.8,301.8 229.4,299.7 227.6,296.2 226.2,295.2 219.5,296.5 219.2,299.9 221.8,303.6"/><polygon points="217.5,301 209.7,302.9 215.9,306.9 219.5,305.6 220.1,304.7"/><polygon points="207.1,303.3 203.4,306.8 210.3,312.5 214.3,308"/><polygon points="208.7,313.6 201.6,307.6 201.3,307.6 195,310.6 195.8,313.5 205.5,314.9"/><polygon points="204.3,316.3 195.3,315 191.7,317.7 195.6,321.8 199.5,321.7 202.9,319.4"/><polygon points="189.4,328.1 193.7,322.6 189.7,318.5 186.8,318.6 183.4,321.9 185.8,328"/><polygon points="172.2,327.7 176.3,330.1 180.7,329.9 183.7,328.4 181.4,322.5 177.5,322.2"/><polygon points="174.5,331 170.2,328.5 168.2,328.1 161.9,331.7 161.2,333.9 169,336.3 170.6,336.2"/><polygon points="160.5,335.3 158,339.3 162.4,344.1 162.8,344 167.3,337.5"/><polygon points="160.3,344.6 156.3,340.2 149.1,341.2 149.6,344.1 154.2,345.7"/><polygon points="153,347 149,345.7 147.3,347.9 151.2,353.4 152.1,353.7"/><polygon points="142.5,354.6 148.8,353.5 145.5,348.7 138.8,348.8 138.3,349.7"/><polygon points="140.6,355.3 136.7,350.8 135.6,351.2"/><polygon points="285.7,263 280.6,267.9 288.2,269.4 292,267.5 292.2,266.5"/><polygon points="287.1,270.7 278.9,269 278.5,269.1 275.8,271.1 280.2,275.2 286.9,272.4"/><polygon points="278.4,276.1 273.9,272 268.7,273 267.7,274.4 267.3,278.2 268.8,279.5"/><polygon points="265.7,279.3 257.9,280.7 256.8,283.2 263,285.3 267.2,280.6"/><polygon points="255.5,284.3 252.1,285.6 256.1,290.3 262.4,287.8 262.3,286.7"/><polygon points="246.2,285.9 244.1,293 244.1,293.2 247.2,295.6 253.9,292 254.3,291.4 249.9,286.1"/><polygon points="241.1,300.2 245.4,296.6 242.6,294.3 230,296.3 231.5,299.2 239.1,300.4"/><polygon points="237.2,301.6 231,300.6 228.9,302.3 232.8,305.7"/><polygon points="231.3,309 231.6,307.2 227.1,303.3 222.1,305.1 221.7,305.9 228.4,310"/><polygon points="217.1,316.2 225.5,314.2 226.9,311.1 220.2,307 216.5,308.3 211.9,313.5"/><polygon points="210.3,314.6 206.6,316.2 205.1,319.6 209.3,322.5 214.4,322.1 215.6,317.4"/><polygon points="203.8,320.9 201.2,322.6 204.4,327.6 207.5,323.5"/><polygon points="203,329.1 199.2,323.2 195.6,323.3 191.4,328.7 195.9,331.3"/><polygon points="190.9,336.7 194.5,333.7 194.6,332.5 189.6,329.7 185.2,329.5 182.3,331 184.4,336.6"/><polygon points="177.6,341.5 179,341.5 182.3,337.3 180.3,331.5 176.6,331.6 172.6,336.9"/><polygon points="169.5,337.8 165.2,344 172.1,344.5 175.6,342.2 170.8,337.7"/><polygon points="163.1,345.6 163.3,350.6 165.4,351.6 172.1,351.1 171.5,346.1 163.7,345.4"/><polygon points="161.1,350.6 160.9,346.1 155.2,347.2 154.4,353.1"/><polygon points="142.3,356.7 149.8,362.9 153.4,359.2 151.9,355.3 150.3,354.8 142.8,356.2"/><polygon points="299.1,270.8 293,268.6 289.3,270.5 289.1,272.4 292.2,274.6"/><polygon points="281.1,276.3 283.7,279.7 290.9,276.6 290.9,275.9 287.7,273.6"/><polygon points="270.4,280.4 277.2,283.3 282,280.8 279.2,277.2"/><polygon points="264.4,286.3 264.6,287.7 270.3,289.9 274.9,287.9 276,284.5 268.7,281.5"/><polygon points="256.1,292.1 262.4,294.8 268.9,291.9 269,291.1 263.5,288.9 256.4,291.8"/><polygon points="254.7,293.3 248.9,296.4 253.9,298.9 261,296.1 261,296"/><polygon points="247.1,297.4 242.9,300.9 245,305.8 255.6,303.5 252.8,300.2"/><polygon points="239.2,309.7 239.9,309.5 242.7,307.9 243.1,306.8 240.9,301.7 239.6,301.8 233.8,307.1 233.5,308.9"/><polygon points="227.6,314.4 235.4,315.9 237.8,311 232.4,310.2 229.1,311.4"/><polygon points="225.6,315.7 219,317.3 228,323"/><polygon points="217.5,318.4 216.5,322.7 217.4,324.2 225.8,323.7"/><polygon points="205.7,329.1 208.2,329.9 214.3,327.9 215.6,325.1 214.6,323.6 209.5,324"/><polygon points="202,338.1 204.1,338.4 207.7,333.1 207.2,331.3 204.3,330.4 196.8,332.6 196.7,333.7"/><polygon points="195.1,342.7 200,338.9 195.6,335.1 192.5,337.8 193,342"/><polygon points="190.4,338.3 184.1,338.1 181.1,342.1 184.4,344.2 190.8,342.1"/><polygon points="179.2,343.1 177.5,343 173.6,345.7 174.3,351.4 178.2,353.7 183.9,349.9 183.1,345.5"/><polygon points="166.5,357.8 171.4,358.9 177,355 172.9,352.6 166.3,353.1"/><polygon points="154,355 155.5,358.7 160.1,359.8 164.3,358 164.1,352.8 162.2,351.9"/><polygon points="162.5,366.1 159.5,361.3 155,360.3 151.3,364.1 155.3,367.4"/><polygon points="303.2,272.5 306.3,275.7 308.6,275.4"/><polygon points="301.7,277.7 304.2,276.4 299.9,272 293.1,275.7 293.1,276.5 297.9,278.7"/><polygon points="284.5,281 290.5,284.3 293,284.3 296.2,279.8 291.9,277.8"/><polygon points="282.9,282 278.2,284.5 277.1,287.8 282.1,289.1 288.4,285.1"/><polygon points="280.7,290.3 275.9,289.1 271.2,291.1 271,292.1 273.7,296.4 277.9,295.6"/><polygon points="263.1,296.3 266.8,301.8 269.7,300.7 271.8,297.3 269.3,293.3 263.2,296"/><polygon points="261.2,304.7 262,304.6 264.9,302.7 261.4,297.5 255.2,299.9 258.1,303.3"/><polygon points="252.8,310.9 259.2,305.6 257,304.7 245.1,307.3 244.9,307.9"/><polygon points="246.7,316.5 248.4,316.6 251.8,313.1 251.8,312.3 243.7,309.2 241.8,310.3"/><polygon points="240,311.2 237.3,316.7 238.6,318.4 244.4,316.9"/><polygon points="230.5,323.8 235.1,322.2 236.9,319.5 235.3,317.5 228,316"/><polygon points="217.5,325.7 216.5,328.2 221.4,331 226.3,330.8 228.5,329.3 229.1,325.2 229.1,325.2 228.2,325.1"/><polygon points="209.4,331.2 209.8,332.7 215.9,336 219.6,332 215,329.4"/><polygon points="215.3,338.8 215.1,337.6 209.2,334.3 206,339.1 210.1,342.6 210.3,342.6"/><polygon points="201.4,347.5 208.1,343.4 204.1,340 201.8,339.7 196.7,343.7 199.5,347.3"/><polygon points="194.6,344.2 191.9,343.4 185.3,345.5 186,349.5 190.5,350.5 191.9,350.5 197.3,347.8"/><polygon points="179.4,355 181.7,357 188.2,358.2 189.2,351.9 185.3,351"/><polygon points="178.1,356.4 172.8,360.1 173,364 180.1,363.7 180,358"/><polygon points="170.7,360.4 165.6,359.3 161.7,361 164.9,366.1 168.2,367.7 170.9,364.6"/><polygon points="164.4,374 167.7,369.9 167.5,369.3 163.9,367.5 156.9,368.8 161.9,372.9"/><polygon points="310.5,276.5 306,277.1 303.4,278.5 306,284.2 312,281.8 313.3,278.8 312.9,277.8 310.8,276.6"/><polygon points="297.3,286.9 302.7,286.6 304,285.3 301.4,279.2 298.4,280 295,284.8"/><polygon points="295.4,287.8 293,285.7 290.4,285.7 284.1,289.7 290.2,293 291.8,292.5"/><polygon points="282.6,290.9 280.1,295.7 285.4,296.7 288.4,294"/><polygon points="284.6,298.1 278.5,297 273.7,297.8 271.9,300.8 276.7,302.5 284.7,301.1"/><polygon points="270.5,302 266.8,303.3 263.8,305.4 268.9,311.1 269.9,311.2 275.1,307.1 275.3,303.8"/><polygon points="254,312.1 254,312.7 261.9,314.6 266.7,311.7 261.7,306.1 261.3,306.1"/><polygon points="250.1,317.4 251.1,318.8 258.2,319.5 260.3,318.2 260.9,315.9 253.3,314.1"/><polygon points="237.4,322.3 246.4,326.1 249.2,319.6 248.1,318.1 246,318 238.9,319.9"/><polygon points="235,330.6 243.9,326.9 235.9,323.5 231.3,325.2 230.7,329.2"/><polygon points="235.4,333.6 234.2,332 229.7,330.6 227.9,331.8 228.5,338.7"/><polygon points="225.7,332.3 221.6,332.5 217.3,337.3 217.4,338.4 226.4,339.6"/><polygon points="224.7,345.3 226,341.1 216.8,339.9 212.2,343.4 217,347.4"/><polygon points="211.2,352.9 214.9,350.8 215.5,348.6 210.2,344.2 210,344.2 203,348.6 205.5,352.7"/><polygon points="200.2,357.5 203.5,353.4 200.9,349.1 199,348.8 193.7,351.5 198.6,357.9"/><polygon points="191.6,352.1 191.3,352.1 190.3,358.8 193.4,360.7 196.7,358.6"/><polygon points="188.6,359.9 182.2,358.8 182.3,364.1 185.9,366.8 188.3,367 191.7,364.3 192.2,362.1"/><polygon points="183.7,367.5 180.8,365.3 172.6,365.7 169.7,369 169.8,369.5 176.8,371.4"/><polygon points="166,375.2 167,377.1 170.1,379.7 178,376.5 176.2,372.9 169.3,371.1"/><polygon points="315.2,279.6 314.1,281.9 316.7,284.6 324,283.8 316.8,279.9"/><polygon points="307.1,289.3 312.7,288.8 314.8,285.5 312.5,283.1 306,285.8 304.6,287.1"/><polygon points="300.8,296 302.4,295.2 305.2,290.3 302.6,287.9 297.3,288.3 293.9,292.8"/><polygon points="290.5,294.3 286.8,297.7 286.9,301.2 288.8,302.5 299.2,298.1 299.5,297.3 292.2,293.9"/><polygon points="287.5,303.8 285.4,302.4 277.5,303.8 277.4,306.7 285.4,308.4 287.8,306.1"/><polygon points="276.5,308.1 271.7,312 274.3,313.7 278.4,313.8 284.1,310.6 284.4,309.8"/><polygon points="268.3,312.6 263.1,315.7 262.5,318 269.1,319.9 272.4,314.7 269.5,312.7"/><polygon points="259.6,320.5 260.4,325.2 268.4,321.4 261.4,319.4"/><polygon points="257.3,328.1 258.3,326.5 257.5,321 251.1,320.3 248.3,326.7 250.4,328.3 256,328.6"/><polygon points="243,335.7 248.4,329.2 246.5,327.7 246.2,327.7 236.5,331.7 237.6,333.1"/><polygon points="239.8,340.5 242.3,339.1 242.2,337.3 236.8,334.7 230,339.7"/><polygon points="228.2,341.2 226.8,345.6 229.5,348 234.7,349.5 238.1,344.1 238.7,342"/><polygon points="227.4,348.7 225.2,346.8 217.6,348.9 217.1,350.9 221.3,353.5 222,353.8"/><polygon points="215.8,352.2 212.7,354 213.5,357.3 215,357.6 219.1,354.3"/><polygon points="207.5,361.3 211.3,357.7 210.6,354.5 205.3,354.3 202.3,358"/><polygon points="194.4,362.2 193.9,364.1 202.1,366.8 204.2,367 207.8,365.9 206.7,363 200.6,359.1 198.6,359.5"/><polygon points="192.9,365.6 190,368 192.5,374.2 200,367.9"/><polygon points="184.1,378.3 190.4,374.6 187.9,368.6 185.7,368.4 178.3,372.6 180.2,376.4"/><polygon points="179,385 182.9,383.1 183.1,379.7 179.3,377.9 171.6,380.9 173.6,382.6"/><polygon points="318.4,292 321.9,290.9 325.5,288.3 326.7,286.6 325.3,285 316.7,286 314.6,289.2"/><polygon points="314.8,295.5 316.7,293.1 312.8,290.2 307.2,290.7 304.8,294.9"/><polygon points="313.6,296.9 303.5,296.3 301.7,297.3 301.3,298.3 305.2,302.8 305.7,302.6"/><polygon points="299.3,307.3 303.4,304.2 303.5,304 299.7,299.5 289.7,303.7 290,305.6"/><polygon points="297.5,308.5 289.3,307 286.7,309.5 286.2,310.7 289.3,312.6 292.1,312.5"/><polygon points="287.7,313.8 284.9,312 280,314.7 282.7,319.2 287.7,315.6"/><polygon points="277.9,315.3 274.4,315.2 270.7,320.9 270.8,321.2 275.7,324.2 281,320.4"/><polygon points="269.6,322.6 260.3,326.9 259.6,328.1 267.6,330.1 274.1,325.4"/><polygon points="257.7,336.8 259.8,335.8 265.9,331.4 258.1,329.4 257.3,329.8"/><polygon points="247.9,339.7 249.2,339.7 255.5,337.2 255.1,330.1 250.3,329.9 244.4,337 244.5,338.8"/><polygon points="245,346.4 246.7,345.2 246.5,341.1 243.5,340.3 241,341.7 240.3,343.9"/><polygon points="237.3,352 243.4,347.6 239.5,345.5 236.4,350.4"/><polygon points="227,358.8 231.4,356.3 235.4,353.4 235.5,353.1 234.3,351.1 229.1,349.6 223.6,354.8"/><polygon points="220.9,355.2 216.8,358.5 222.1,362.1 225.3,359.9 221.5,355.4"/><polygon points="212.1,366.6 220.3,363.2 214.7,359.2 212.8,358.8 208.9,362.6 210,365.8"/><polygon points="201,377.5 202.5,377.2 211.7,370.5 211.1,368.1 209,367.3 205.1,368.4"/><polygon points="202.2,368.4 194.5,374.9 199,376.8 202.8,368.5"/><polygon points="185.2,379.7 185,383.1 190.3,386 196.5,381.5 198.4,378.5 192.4,375.9 191.8,375.8"/><polygon points="179.5,387.4 183.6,390.8 188.6,387.1 183.9,384.6 179.9,386.5"/><polygon points="255.5,338.9 251.2,340.6 252.1,341.3"/><polygon points="248.9,341.2 248.7,341.2 248.9,343.7 250.5,342.5"/><polygon points="218,365.9 213.3,367.9 213.6,369.1"/></g><text x="198" y="313" text-anchor="middle" font-weight="bold" font-size="27.5" fill="#ed7d31">Li Wrapping</text><polygon points="195.6,176.7 202.5,184.4 209.6,176.7 209.6,236.4 216,236.4 202.5,249.7 188.5,236.4 195.6,236.4" fill="#ffc000" stroke="#ed7d31" stroke-width="1.2"/><rect x="401" y="21" width="39" height="36" fill="#fff"/><ellipse cx="420.5" cy="38" rx="16.3" ry="15" fill="url(#li)"/><rect x="631" y="15.5" width="39" height="36" fill="#fff"/><ellipse cx="650.5" cy="32.5" rx="16.3" ry="15" fill="url(#li)"/><rect x="854" y="16" width="39" height="36" fill="#fff"/><ellipse cx="873.5" cy="33" rx="16.3" ry="15" fill="url(#li)"/><rect x="1077" y="16" width="39" height="36" fill="#fff"/><ellipse cx="1096.5" cy="33" rx="16.3" ry="15" fill="url(#li)"/><rect x="320" y="80" width="201" height="81" fill="#fff"/><circle cx="444" cy="119.8" r="14.8" fill="url(#cu3)"/><circle cx="407.8" cy="120.5" r="14.8" fill="url(#cu3)"/><circle cx="371.6" cy="121.2" r="14.8" fill="url(#cu3)"/><circle cx="335.4" cy="121.9" r="14.8" fill="url(#cu3)"/><circle cx="459.1" cy="95.4" r="14.8" fill="url(#cu3)"/><circle cx="422.9" cy="96.1" r="14.8" fill="url(#cu3)"/><circle cx="386.7" cy="96.8" r="14.8" fill="url(#cu3)"/><circle cx="350.5" cy="97.5" r="14.8" fill="url(#cu3)"/><circle cx="457.8" cy="126.6" r="14.8" fill="url(#cu3)"/><circle cx="421.6" cy="127.3" r="14.8" fill="url(#cu3)"/><circle cx="385.4" cy="128" r="14.8" fill="url(#cu3)"/><circle cx="349.2" cy="128.7" r="14.8" fill="url(#cu3)"/><circle cx="472.9" cy="102.2" r="14.8" fill="url(#cu2)"/><circle cx="436.7" cy="102.9" r="14.8" fill="url(#cu2)"/><circle cx="400.5" cy="103.6" r="14.8" fill="url(#cu2)"/><circle cx="364.3" cy="104.3" r="14.8" fill="url(#cu2)"/><circle cx="471.6" cy="133.4" r="14.8" fill="url(#cu2)"/><circle cx="435.4" cy="134.1" r="14.8" fill="url(#cu2)"/><circle cx="399.2" cy="134.8" r="14.8" fill="url(#cu2)"/><circle cx="363" cy="135.5" r="14.8" fill="url(#cu2)"/><circle cx="486.7" cy="109" r="14.8" fill="url(#cu1)"/><circle cx="450.5" cy="109.7" r="14.8" fill="url(#cu1)"/><circle cx="414.3" cy="110.4" r="14.8" fill="url(#cu1)"/><circle cx="378.1" cy="111.1" r="14.8" fill="url(#cu1)"/><circle cx="485.4" cy="140.2" r="14.8" fill="url(#cu1)"/><circle cx="449.2" cy="140.9" r="14.8" fill="url(#cu1)"/><circle cx="413" cy="141.6" r="14.8" fill="url(#cu1)"/><circle cx="376.8" cy="142.3" r="14.8" fill="url(#cu1)"/><circle cx="500.5" cy="115.8" r="14.8" fill="url(#cu0)"/><circle cx="464.3" cy="116.5" r="14.8" fill="url(#cu0)"/><circle cx="428.1" cy="117.2" r="14.8" fill="url(#cu0)"/><circle cx="391.9" cy="117.9" r="14.8" fill="url(#cu0)"/><polygon points="568.4,62.1 746,82.8 734.7,178 556.3,156.4" fill="#fff"/><clipPath id="znclip"><polygon points="568.4,62.1 746,82.8 734.7,178 556.3,156.4"/></clipPath><g clip-path="url(#znclip)"><circle cx="692.8" cy="91.7" r="11.6" fill="url(#zn1)"/><circle cx="662.5" cy="93.2" r="11.6" fill="url(#zn1)"/><circle cx="632.2" cy="94.7" r="11.6" fill="url(#zn1)"/><circle cx="712.2" cy="96.7" r="11.6" fill="url(#cu3)"/><circle cx="681.9" cy="98.2" r="11.6" fill="url(#cu3)"/><circle cx="651.6" cy="99.7" r="11.6" fill="url(#cu3)"/><circle cx="621.3" cy="101.2" r="11.6" fill="url(#cu3)"/><circle cx="716.2" cy="121.7" r="11.6" fill="url(#cu3)"/><circle cx="685.9" cy="123.2" r="11.6" fill="url(#cu3)"/><circle cx="655.6" cy="124.7" r="11.6" fill="url(#cu3)"/><circle cx="625.3" cy="126.2" r="11.6" fill="url(#cu3)"/><circle cx="595" cy="127.7" r="11.6" fill="url(#cu3)"/><circle cx="731.6" cy="101.7" r="11.6" fill="url(#cu3)"/><circle cx="701.3" cy="103.2" r="11.6" fill="url(#cu3)"/><circle cx="671" cy="104.7" r="11.6" fill="url(#cu3)"/><circle cx="640.7" cy="106.2" r="11.6" fill="url(#cu3)"/><circle cx="610.4" cy="107.7" r="11.6" fill="url(#cu3)"/><circle cx="705.3" cy="128.2" r="11.6" fill="url(#zn1)"/><circle cx="675" cy="129.7" r="11.6" fill="url(#zn1)"/><circle cx="644.7" cy="131.2" r="11.6" fill="url(#zn1)"/><circle cx="614.4" cy="132.7" r="11.6" fill="url(#zn1)"/><circle cx="584.1" cy="134.2" r="11.6" fill="url(#zn1)"/><circle cx="720.7" cy="108.2" r="11.6" fill="url(#zn0)"/><circle cx="690.4" cy="109.7" r="11.6" fill="url(#zn0)"/><circle cx="660.1" cy="111.2" r="11.6" fill="url(#zn0)"/><circle cx="629.8" cy="112.7" r="11.6" fill="url(#zn0)"/><circle cx="599.5" cy="114.2" r="11.6" fill="url(#zn0)"/><circle cx="724.7" cy="133.2" r="11.6" fill="url(#cu2)"/><circle cx="694.4" cy="134.7" r="11.6" fill="url(#cu2)"/><circle cx="664.1" cy="136.2" r="11.6" fill="url(#cu2)"/><circle cx="633.8" cy="137.7" r="11.6" fill="url(#cu2)"/><circle cx="603.5" cy="139.2" r="11.6" fill="url(#cu2)"/><circle cx="573.2" cy="140.7" r="11.6" fill="url(#cu2)"/><circle cx="709.8" cy="114.7" r="11.6" fill="url(#cu1)"/><circle cx="679.5" cy="116.2" r="11.6" fill="url(#cu1)"/><circle cx="649.2" cy="117.7" r="11.6" fill="url(#cu1)"/><circle cx="618.9" cy="119.2" r="11.6" fill="url(#cu1)"/><circle cx="588.6" cy="120.7" r="11.6" fill="url(#cu1)"/><circle cx="713.8" cy="139.7" r="11.6" fill="url(#cu1)"/><circle cx="683.5" cy="141.2" r="11.6" fill="url(#cu1)"/><circle cx="653.2" cy="142.7" r="11.6" fill="url(#cu1)"/><circle cx="622.9" cy="144.2" r="11.6" fill="url(#cu1)"/><circle cx="592.6" cy="145.7" r="11.6" fill="url(#cu1)"/><circle cx="698.9" cy="121.2" r="11.6" fill="url(#cu0)"/><circle cx="668.6" cy="122.7" r="11.6" fill="url(#cu0)"/><circle cx="638.3" cy="124.2" r="11.6" fill="url(#cu0)"/><circle cx="608" cy="125.7" r="11.6" fill="url(#cu0)"/><circle cx="702.9" cy="146.2" r="11.6" fill="url(#zn0)"/><circle cx="672.6" cy="147.7" r="11.6" fill="url(#zn0)"/><circle cx="642.3" cy="149.2" r="11.6" fill="url(#zn0)"/></g><rect x="815" y="80" width="139" height="78" fill="#fff"/><circle cx="884.1" cy="91.1" r="12.2" fill="url(#ga1)"/><circle cx="851.6" cy="92.3" r="12.2" fill="url(#ga1)"/><circle cx="927.2" cy="95.8" r="12.2" fill="url(#ga1)"/><circle cx="893.4" cy="97.5" r="12.2" fill="url(#ga1)"/><circle cx="829.5" cy="102.2" r="12.2" fill="url(#ga1)"/><circle cx="862" cy="102.2" r="12.2" fill="url(#ga1)"/><circle cx="872.5" cy="106.8" r="12.2" fill="url(#ga1)"/><circle cx="905" cy="106.8" r="12.2" fill="url(#ga1)"/><circle cx="835.3" cy="119" r="12.2" fill="url(#br1)"/><circle cx="910" cy="119" r="12.2" fill="url(#br1)"/><circle cx="878" cy="120" r="12.2" fill="url(#br1)"/><circle cx="845.7" cy="121.4" r="12.2" fill="url(#br1)"/><circle cx="933" cy="133" r="12.2" fill="url(#ga1)"/><circle cx="827.1" cy="133.6" r="12.2" fill="url(#ga1)"/><circle cx="858.5" cy="137.7" r="12.2" fill="url(#ga1)"/><circle cx="872.5" cy="141.1" r="12.2" fill="url(#ga1)"/><circle cx="902.7" cy="141.1" r="12.2" fill="url(#ga1)"/><circle cx="938.2" cy="106.5" r="12.2" fill="url(#ga0)"/><circle cx="841.7" cy="108.9" r="12.2" fill="url(#ga0)"/><circle cx="916.1" cy="113" r="12.2" fill="url(#ga0)"/><circle cx="884.1" cy="113.8" r="12.2" fill="url(#ga0)"/><circle cx="926.6" cy="125.4" r="12.2" fill="url(#br0)"/><circle cx="894.4" cy="126" r="12.2" fill="url(#br0)"/><circle cx="862" cy="126.8" r="12.2" fill="url(#br0)"/><circle cx="937" cy="137.6" r="12.2" fill="url(#ga0)"/><circle cx="840.5" cy="139.7" r="12.2" fill="url(#ga0)"/><circle cx="915.3" cy="144" r="12.2" fill="url(#ga0)"/><circle cx="883" cy="144.8" r="12.2" fill="url(#ga0)"/><rect x="1036" y="52" width="139" height="44" fill="#fff"/><rect x="1025.5" y="96" width="160.5" height="65" fill="#fff"/><circle cx="1120.9" cy="126.3" r="11.6" fill="url(#cu3)"/><circle cx="1091.9" cy="126.9" r="11.6" fill="url(#cu3)"/><circle cx="1062.9" cy="127.5" r="11.6" fill="url(#cu3)"/><circle cx="1033.9" cy="128.1" r="11.6" fill="url(#cu3)"/><circle cx="1133.3" cy="106.5" r="11.6" fill="url(#cu3)"/><circle cx="1104.3" cy="107.1" r="11.6" fill="url(#cu3)"/><circle cx="1075.3" cy="107.7" r="11.6" fill="url(#cu3)"/><circle cx="1046.3" cy="108.3" r="11.6" fill="url(#cu3)"/><circle cx="1133.3" cy="131.9" r="11.6" fill="url(#cu3)"/><circle cx="1104.3" cy="132.5" r="11.6" fill="url(#cu3)"/><circle cx="1075.3" cy="133.1" r="11.6" fill="url(#cu3)"/><circle cx="1046.3" cy="133.7" r="11.6" fill="url(#cu3)"/><circle cx="1145.7" cy="112.1" r="11.6" fill="url(#cu2)"/><circle cx="1116.7" cy="112.7" r="11.6" fill="url(#cu2)"/><circle cx="1087.7" cy="113.3" r="11.6" fill="url(#cu2)"/><circle cx="1058.7" cy="113.9" r="11.6" fill="url(#cu2)"/><circle cx="1145.7" cy="137.5" r="11.6" fill="url(#cu2)"/><circle cx="1116.7" cy="138.1" r="11.6" fill="url(#cu2)"/><circle cx="1087.7" cy="138.7" r="11.6" fill="url(#cu2)"/><circle cx="1058.7" cy="139.3" r="11.6" fill="url(#cu2)"/><circle cx="1158.1" cy="117.7" r="11.6" fill="url(#cu1)"/><circle cx="1129.1" cy="118.3" r="11.6" fill="url(#cu1)"/><circle cx="1100.1" cy="118.9" r="11.6" fill="url(#cu1)"/><circle cx="1071.1" cy="119.5" r="11.6" fill="url(#cu1)"/><circle cx="1158.1" cy="143.1" r="11.6" fill="url(#cu1)"/><circle cx="1129.1" cy="143.7" r="11.6" fill="url(#cu1)"/><circle cx="1100.1" cy="144.3" r="11.6" fill="url(#cu1)"/><circle cx="1071.1" cy="144.9" r="11.6" fill="url(#cu1)"/><circle cx="1170.5" cy="123.3" r="11.6" fill="url(#cu0)"/><circle cx="1141.5" cy="123.9" r="11.6" fill="url(#cu0)"/><circle cx="1112.5" cy="124.5" r="11.6" fill="url(#cu0)"/><circle cx="1083.5" cy="125.1" r="11.6" fill="url(#cu0)"/><circle cx="1112.2" cy="58" r="5.8" fill="url(#ga1)"/><circle cx="1124.2" cy="60.5" r="5.8" fill="url(#ga1)"/><circle cx="1097.8" cy="61.3" r="5.8" fill="url(#ga1)"/><circle cx="1136.2" cy="63" r="5.8" fill="url(#ga1)"/><circle cx="1109.8" cy="63.8" r="5.8" fill="url(#ga1)"/><circle cx="1083.2" cy="64.8" r="5.8" fill="url(#ga1)"/><circle cx="1148.2" cy="65.5" r="5.8" fill="url(#ga1)"/><circle cx="1121.8" cy="66.3" r="5.8" fill="url(#ga1)"/><circle cx="1095.2" cy="67.2" r="5.8" fill="url(#ga1)"/><circle cx="1068.8" cy="68.1" r="5.8" fill="url(#ga1)"/><circle cx="1133.8" cy="68.8" r="5.8" fill="url(#ga1)"/><circle cx="1107.2" cy="69.8" r="5.8" fill="url(#ga1)"/><circle cx="1080.8" cy="70.6" r="5.8" fill="url(#ga1)"/><circle cx="1054.2" cy="71.5" r="5.8" fill="url(#ga1)"/><circle cx="1119.2" cy="72.2" r="5.8" fill="url(#ga1)"/><circle cx="1092.8" cy="73.1" r="5.8" fill="url(#ga1)"/><circle cx="1066.2" cy="74" r="5.8" fill="url(#ga1)"/><circle cx="1104.8" cy="75.6" r="5.8" fill="url(#ga1)"/><circle cx="1078.2" cy="76.5" r="5.8" fill="url(#ga1)"/><circle cx="1090.2" cy="79" r="5.8" fill="url(#ga1)"/><circle cx="1117.5" cy="63" r="5.8" fill="url(#ga0)"/><circle cx="1129.5" cy="65.5" r="5.8" fill="url(#ga0)"/><circle cx="1103" cy="66.4" r="5.8" fill="url(#ga0)"/><circle cx="1141.5" cy="68" r="5.8" fill="url(#ga0)"/><circle cx="1115" cy="68.9" r="5.8" fill="url(#ga0)"/><circle cx="1088.5" cy="69.8" r="5.8" fill="url(#ga0)"/><circle cx="1153.5" cy="70.5" r="5.8" fill="url(#ga0)"/><circle cx="1127" cy="71.4" r="5.8" fill="url(#ga0)"/><circle cx="1100.5" cy="72.3" r="5.8" fill="url(#ga0)"/><circle cx="1165.5" cy="73" r="5.8" fill="url(#ga0)"/><circle cx="1074" cy="73.2" r="5.8" fill="url(#ga0)"/><circle cx="1139" cy="73.9" r="5.8" fill="url(#ga0)"/><circle cx="1112.5" cy="74.8" r="5.8" fill="url(#ga0)"/><circle cx="1086" cy="75.7" r="5.8" fill="url(#ga0)"/><circle cx="1151" cy="76.4" r="5.8" fill="url(#ga0)"/><circle cx="1059.5" cy="76.6" r="5.8" fill="url(#ga0)"/><circle cx="1124.5" cy="77.3" r="5.8" fill="url(#ga0)"/><circle cx="1098" cy="78.2" r="5.8" fill="url(#ga0)"/><circle cx="1071.5" cy="79.1" r="5.8" fill="url(#ga0)"/><circle cx="1136.5" cy="79.8" r="5.8" fill="url(#ga0)"/><circle cx="1045" cy="80" r="5.8" fill="url(#ga0)"/><circle cx="1110" cy="80.7" r="5.8" fill="url(#ga0)"/><circle cx="1083.5" cy="81.6" r="5.8" fill="url(#ga0)"/><circle cx="1057" cy="82.5" r="5.8" fill="url(#ga0)"/><circle cx="1122" cy="83.2" r="5.8" fill="url(#ga0)"/><circle cx="1095.5" cy="84.1" r="5.8" fill="url(#ga0)"/><circle cx="1069" cy="85" r="5.8" fill="url(#ga0)"/><circle cx="1107.5" cy="86.6" r="5.8" fill="url(#ga0)"/><circle cx="1081" cy="87.5" r="5.8" fill="url(#ga0)"/><circle cx="1093" cy="90" r="5.8" fill="url(#ga0)"/><text class="serif" x="421.5" y="196.7" text-anchor="middle" font-weight="bold" font-size="34" fill="#c00000" transform="translate(421.5,0) scale(0.88,1) translate(-421.5,0)">Cu</text><text class="serif" x="579" y="202" font-weight="bold" font-size="33" fill="#538135" transform="translate(579,0) scale(0.87,1) translate(-579,0)">Cu<tspan font-size="21" dy="6.5">0.7</tspan><tspan dy="-6.5">Zn</tspan><tspan font-size="21" dy="6.5">0.3</tspan></text><text class="serif" x="820" y="195.4" font-weight="bold" font-size="36.5" fill="#ed7d31" transform="translate(820,0) scale(0.835,1) translate(-820,0)">CuGa<tspan font-size="23" dy="6">2</tspan></text><text class="serif" x="1102.5" y="201.7" text-anchor="middle" font-weight="bold" font-size="33" fill="#ff0000" transform="translate(1102.5,0) scale(0.87,1) translate(-1102.5,0)">Ga@Cu</text><text class="serif" x="1131" y="249" font-weight="bold" font-size="30.5" fill="#c00000">Solubility</text><text class="serif" x="1136" y="285.5" font-weight="bold" font-size="30.5" fill="#c00000">increase</text><text class="serif" x="410" y="297.5" font-weight="bold" font-size="30.5" fill="#00b050">Barrier decrease</text><text class="serif" transform="translate(922,334) rotate(-8)" font-weight="bold" font-size="30.5" fill="#ff0000">Barrier increase</text><polyline points="364,235.3 700,229.8 1010,228.2 1130,227" fill="none" stroke="#c00000" stroke-width="5"/><polyline points="1119,220.5 1132,227 1119,233.5" fill="none" stroke="#c00000" stroke-width="3"/><path d="M374,262.5 L540,265.9 C580,267.3 620,269.3 660,272.5 L873,292" fill="none" stroke="#00b050" stroke-width="5"/><polyline points="860,285 875.5,292.3 860,298.5" fill="none" stroke="#00b050" stroke-width="3"/><line x1="907.5" y1="295" x2="1102" y2="269" stroke="#ff0000" stroke-width="5"/><polyline points="1091,262.5 1105,268.8 1093,277" fill="none" stroke="#ff0000" stroke-width="3"/><circle cx="409.7" cy="262.2" r="8.2" fill="url(#gold)"/><circle cx="629" cy="262" r="8.2" fill="url(#gold)"/><circle cx="887" cy="291.4" r="8.2" fill="url(#gold)"/><circle cx="1111" cy="269.8" r="8.2" fill="url(#gold)"/><path d="M415,56.5 L425,56.5 L425,61 L430,66 L425,71 L430,76 L430,79 L420,86 L411,79 L411,76 L415,71 L411,66 L415,61 Z" fill="#ff0000"/><path d="M413.5,79 L420,85 L426.5,79" fill="#fff" stroke="none"/><path d="M418.9,59 L422.2,59 L422.2,62.5 L420.5,64 L418.9,62.5 Z" fill="#000"/><path d="M418.5,73 L421.5,73 L421.5,79 L418.5,79 Z" fill="#000"/><path d="M653.5,54.5 L660.5,54.5 L660.5,75 L664.5,75 L657.5,81.5 L650.5,75 L653.5,75 Z" fill="none" stroke="#ff0000" stroke-width="2.8" stroke-linejoin="miter"/><path d="M873.5,54.5 L880.5,54.5 L880.5,76 L885,76 L877.25,82.5 L869.5,76 L873.5,76 Z" fill="none" stroke="#00b050" stroke-width="2.8" stroke-linejoin="miter"/><path d="M1018.8,106.3 L1024.2,106.3 L1024.2,85.5 L1029.5,85.5 L1021.5,78.5 L1013.5,85.5 L1018.8,85.5 Z" fill="none" stroke="#ff0000" stroke-width="3.2"/><rect x="408" y="327" width="39" height="36" fill="#fff"/><ellipse cx="428" cy="343.6" rx="16" ry="15" fill="url(#li)"/><rect x="538" y="323" width="44" height="42" fill="#fff"/><ellipse cx="561" cy="343.5" rx="18.5" ry="17" fill="url(#licu)"/><rect x="662" y="326" width="42" height="38" fill="#fff"/><ellipse cx="683" cy="345" rx="18" ry="16.5" fill="url(#lizn)"/><rect x="771" y="325" width="47" height="42" fill="#fff"/><ellipse cx="795" cy="346" rx="19.5" ry="18.5" fill="url(#liga)"/><text class="serif" x="456.5" y="353.6" font-weight="bold" font-size="33" fill="#7f7f7f" transform="translate(456.5,0) scale(0.87,1) translate(-456.5,0)">Li</text><text class="serif" x="584.5" y="354" font-weight="bold" font-size="33" fill="#c00000" transform="translate(584.5,0) scale(0.87,1) translate(-584.5,0)">Cu</text><text class="serif" x="710.5" y="356.7" font-weight="bold" font-size="32.5" fill="#538135" transform="translate(710.5,0) scale(0.87,1) translate(-710.5,0)">Zn</text><text class="serif" x="826" y="356.7" font-weight="bold" font-size="32.5" fill="#ed7d31" transform="translate(826,0) scale(0.87,1) translate(-826,0)">Ga</text><rect x="0" y="398" width="1206" height="341" fill="#fff"/><g><polyline points="92,442.9 97.4,423.5 102.8,427.3 108.2,434.8 113.7,437.5 119.1,444.3 124.5,423 129.9,434 135.3,436.2 140.7,439.4 146.1,440 151.5,439.4 157,438.9 162.4,438.4 167.8,437.3 173.2,434.8 178.6,435 184,434.2 189.4,435.1 194.8,434.3 200.3,434.5 205.7,435 211.1,434.2 216.5,434.9 221.9,434.3 227.3,434.8 232.7,434.8 238.1,434.2 243.5,433.5 249,434.6 254.4,434.4 259.8,433.8 265.2,433.2 270.6,433.8 276,434.1 281.4,433.1 286.8,434.6 292.3,433.3 297.7,434.2 303.1,434.4 308.5,434.4 313.9,434.1 319.3,433.3 324.7,434.3 330.1,433.6 335.6,433.5 341,433.9 346.4,433.6 351.8,434.4 357.2,434.4 362.6,434.2 368,433.4 373.4,433.8 378.8,434 384.3,433.5 389.7,433.7 395.1,434 400.5,433.1 405.9,433.3 411.3,434 416.7,433.5 422.1,433.6 427.6,433 433,433.2 438.4,433.9 443.8,432.8 449.2,434.2 454.6,433.7 460,433.2 465.4,434.1 470.9,433.6 476.3,434.3 481.7,433.3 487.1,433.1 492.5,433.4 497.9,432.9 503.3,433.8 508.7,433.2 514.1,433.4 519.6,433.4 525,433.6 530.4,433 535.8,432.8 541.2,433.6 546.6,433.3 552,434.2 557.4,433.2 562.9,433.3 568.3,432.7 573.7,433 579.1,433.9 584.5,433.7 589.9,433.2 595.3,434.3 600.7,433.6 606.2,441.6 611.6,441.1 617,442.1 622.4,443.5 627.8,444.8 633.2,447 638.6,447.5 644,448.3 649.4,449.7 654.9,445.1 660.3,454.8 665.7,451 671.1,445.9 676.5,453.7 681.9,458.3" fill="none" stroke="#1a1a1a" stroke-width="1" opacity="0.7"/><circle cx="92" cy="442.9" r="6.5" fill="#1a1a1a" fill-opacity="0.7"/><circle cx="97.4" cy="423.5" r="6.5" fill="#1a1a1a" fill-opacity="0.7"/><circle cx="102.8" cy="427.3" r="6.5" fill="#1a1a1a" fill-opacity="0.7"/><circle cx="108.2" cy="434.8" r="6.5" fill="#1a1a1a" fill-opacity="0.7"/><circle cx="113.7" cy="437.5" r="6.5" fill="#1a1a1a" fill-opacity="0.7"/><circle cx="119.1" cy="444.3" r="6.5" fill="#1a1a1a" fill-opacity="0.7"/><circle cx="124.5" cy="423" r="6.5" fill="#1a1a1a" fill-opacity="0.7"/><circle cx="129.9" cy="434" r="6.5" fill="#1a1a1a" fill-opacity="0.7"/><circle cx="135.3" cy="436.2" r="6.5" fill="#1a1a1a" fill-opacity="0.7"/><circle cx="140.7" cy="439.4" r="6.5" fill="#1a1a1a" fill-opacity="0.7"/><circle cx="146.1" cy="440" r="6.5" fill="#1a1a1a" fill-opacity="0.7"/><circle cx="151.5" cy="439.4" r="6.5" fill="#1a1a1a" fill-opacity="0.7"/><circle cx="157" cy="438.9" r="6.5" fill="#1a1a1a" fill-opacity="0.7"/><circle cx="162.4" cy="438.4" r="6.5" fill="#1a1a1a" fill-opacity="0.7"/><circle cx="167.8" cy="437.3" r="6.5" fill="#1a1a1a" fill-opacity="0.7"/><circle cx="173.2" cy="434.8" r="6.5" fill="#1a1a1a" fill-opacity="0.7"/><circle cx="178.6" cy="435" r="6.5" fill="#1a1a1a" fill-opacity="0.7"/><circle cx="184" cy="434.2" r="6.5" fill="#1a1a1a" fill-opacity="0.7"/><circle cx="189.4" cy="435.1" r="6.5" fill="#1a1a1a" fill-opacity="0.7"/><circle cx="194.8" cy="434.3" r="6.5" fill="#1a1a1a" fill-opacity="0.7"/><circle cx="200.3" cy="434.5" r="6.5" fill="#1a1a1a" fill-opacity="0.7"/><circle cx="205.7" cy="435" r="6.5" fill="#1a1a1a" fill-opacity="0.7"/><circle cx="211.1" cy="434.2" r="6.5" fill="#1a1a1a" fill-opacity="0.7"/><circle cx="216.5" cy="434.9" r="6.5" fill="#1a1a1a" fill-opacity="0.7"/><circle cx="221.9" cy="434.3" r="6.5" fill="#1a1a1a" fill-opacity="0.7"/><circle cx="227.3" cy="434.8" r="6.5" fill="#1a1a1a" fill-opacity="0.7"/><circle cx="232.7" cy="434.8" r="6.5" fill="#1a1a1a" fill-opacity="0.7"/><circle cx="238.1" cy="434.2" r="6.5" fill="#1a1a1a" fill-opacity="0.7"/><circle cx="243.5" cy="433.5" r="6.5" fill="#1a1a1a" fill-opacity="0.7"/><circle cx="249" cy="434.6" r="6.5" fill="#1a1a1a" fill-opacity="0.7"/><circle cx="254.4" cy="434.4" r="6.5" fill="#1a1a1a" fill-opacity="0.7"/><circle cx="259.8" cy="433.8" r="6.5" fill="#1a1a1a" fill-opacity="0.7"/><circle cx="265.2" cy="433.2" r="6.5" fill="#1a1a1a" fill-opacity="0.7"/><circle cx="270.6" cy="433.8" r="6.5" fill="#1a1a1a" fill-opacity="0.7"/><circle cx="276" cy="434.1" r="6.5" fill="#1a1a1a" fill-opacity="0.7"/><circle cx="281.4" cy="433.1" r="6.5" fill="#1a1a1a" fill-opacity="0.7"/><circle cx="286.8" cy="434.6" r="6.5" fill="#1a1a1a" fill-opacity="0.7"/><circle cx="292.3" cy="433.3" r="6.5" fill="#1a1a1a" fill-opacity="0.7"/><circle cx="297.7" cy="434.2" r="6.5" fill="#1a1a1a" fill-opacity="0.7"/><circle cx="303.1" cy="434.4" r="6.5" fill="#1a1a1a" fill-opacity="0.7"/><circle cx="308.5" cy="434.4" r="6.5" fill="#1a1a1a" fill-opacity="0.7"/><circle cx="313.9" cy="434.1" r="6.5" fill="#1a1a1a" fill-opacity="0.7"/><circle cx="319.3" cy="433.3" r="6.5" fill="#1a1a1a" fill-opacity="0.7"/><circle cx="324.7" cy="434.3" r="6.5" fill="#1a1a1a" fill-opacity="0.7"/><circle cx="330.1" cy="433.6" r="6.5" fill="#1a1a1a" fill-opacity="0.7"/><circle cx="335.6" cy="433.5" r="6.5" fill="#1a1a1a" fill-opacity="0.7"/><circle cx="341" cy="433.9" r="6.5" fill="#1a1a1a" fill-opacity="0.7"/><circle cx="346.4" cy="433.6" r="6.5" fill="#1a1a1a" fill-opacity="0.7"/><circle cx="351.8" cy="434.4" r="6.5" fill="#1a1a1a" fill-opacity="0.7"/><circle cx="357.2" cy="434.4" r="6.5" fill="#1a1a1a" fill-opacity="0.7"/><circle cx="362.6" cy="434.2" r="6.5" fill="#1a1a1a" fill-opacity="0.7"/><circle cx="368" cy="433.4" r="6.5" fill="#1a1a1a" fill-opacity="0.7"/><circle cx="373.4" cy="433.8" r="6.5" fill="#1a1a1a" fill-opacity="0.7"/><circle cx="378.8" cy="434" r="6.5" fill="#1a1a1a" fill-opacity="0.7"/><circle cx="384.3" cy="433.5" r="6.5" fill="#1a1a1a" fill-opacity="0.7"/><circle cx="389.7" cy="433.7" r="6.5" fill="#1a1a1a" fill-opacity="0.7"/><circle cx="395.1" cy="434" r="6.5" fill="#1a1a1a" fill-opacity="0.7"/><circle cx="400.5" cy="433.1" r="6.5" fill="#1a1a1a" fill-opacity="0.7"/><circle cx="405.9" cy="433.3" r="6.5" fill="#1a1a1a" fill-opacity="0.7"/><circle cx="411.3" cy="434" r="6.5" fill="#1a1a1a" fill-opacity="0.7"/><circle cx="416.7" cy="433.5" r="6.5" fill="#1a1a1a" fill-opacity="0.7"/><circle cx="422.1" cy="433.6" r="6.5" fill="#1a1a1a" fill-opacity="0.7"/><circle cx="427.6" cy="433" r="6.5" fill="#1a1a1a" fill-opacity="0.7"/><circle cx="433" cy="433.2" r="6.5" fill="#1a1a1a" fill-opacity="0.7"/><circle cx="438.4" cy="433.9" r="6.5" fill="#1a1a1a" fill-opacity="0.7"/><circle cx="443.8" cy="432.8" r="6.5" fill="#1a1a1a" fill-opacity="0.7"/><circle cx="449.2" cy="434.2" r="6.5" fill="#1a1a1a" fill-opacity="0.7"/><circle cx="454.6" cy="433.7" r="6.5" fill="#1a1a1a" fill-opacity="0.7"/><circle cx="460" cy="433.2" r="6.5" fill="#1a1a1a" fill-opacity="0.7"/><circle cx="465.4" cy="434.1" r="6.5" fill="#1a1a1a" fill-opacity="0.7"/><circle cx="470.9" cy="433.6" r="6.5" fill="#1a1a1a" fill-opacity="0.7"/><circle cx="476.3" cy="434.3" r="6.5" fill="#1a1a1a" fill-opacity="0.7"/><circle cx="481.7" cy="433.3" r="6.5" fill="#1a1a1a" fill-opacity="0.7"/><circle cx="487.1" cy="433.1" r="6.5" fill="#1a1a1a" fill-opacity="0.7"/><circle cx="492.5" cy="433.4" r="6.5" fill="#1a1a1a" fill-opacity="0.7"/><circle cx="497.9" cy="432.9" r="6.5" fill="#1a1a1a" fill-opacity="0.7"/><circle cx="503.3" cy="433.8" r="6.5" fill="#1a1a1a" fill-opacity="0.7"/><circle cx="508.7" cy="433.2" r="6.5" fill="#1a1a1a" fill-opacity="0.7"/><circle cx="514.1" cy="433.4" r="6.5" fill="#1a1a1a" fill-opacity="0.7"/><circle cx="519.6" cy="433.4" r="6.5" fill="#1a1a1a" fill-opacity="0.7"/><circle cx="525" cy="433.6" r="6.5" fill="#1a1a1a" fill-opacity="0.7"/><circle cx="530.4" cy="433" r="6.5" fill="#1a1a1a" fill-opacity="0.7"/><circle cx="535.8" cy="432.8" r="6.5" fill="#1a1a1a" fill-opacity="0.7"/><circle cx="541.2" cy="433.6" r="6.5" fill="#1a1a1a" fill-opacity="0.7"/><circle cx="546.6" cy="433.3" r="6.5" fill="#1a1a1a" fill-opacity="0.7"/><circle cx="552" cy="434.2" r="6.5" fill="#1a1a1a" fill-opacity="0.7"/><circle cx="557.4" cy="433.2" r="6.5" fill="#1a1a1a" fill-opacity="0.7"/><circle cx="562.9" cy="433.3" r="6.5" fill="#1a1a1a" fill-opacity="0.7"/><circle cx="568.3" cy="432.7" r="6.5" fill="#1a1a1a" fill-opacity="0.7"/><circle cx="573.7" cy="433" r="6.5" fill="#1a1a1a" fill-opacity="0.7"/><circle cx="579.1" cy="433.9" r="6.5" fill="#1a1a1a" fill-opacity="0.7"/><circle cx="584.5" cy="433.7" r="6.5" fill="#1a1a1a" fill-opacity="0.7"/><circle cx="589.9" cy="433.2" r="6.5" fill="#1a1a1a" fill-opacity="0.7"/><circle cx="595.3" cy="434.3" r="6.5" fill="#1a1a1a" fill-opacity="0.7"/><circle cx="600.7" cy="433.6" r="6.5" fill="#1a1a1a" fill-opacity="0.7"/><circle cx="606.2" cy="441.6" r="6.5" fill="#1a1a1a" fill-opacity="0.7"/><circle cx="611.6" cy="441.1" r="6.5" fill="#1a1a1a" fill-opacity="0.7"/><circle cx="617" cy="442.1" r="6.5" fill="#1a1a1a" fill-opacity="0.7"/><circle cx="622.4" cy="443.5" r="6.5" fill="#1a1a1a" fill-opacity="0.7"/><circle cx="627.8" cy="444.8" r="6.5" fill="#1a1a1a" fill-opacity="0.7"/><circle cx="633.2" cy="447" r="6.5" fill="#1a1a1a" fill-opacity="0.7"/><circle cx="638.6" cy="447.5" r="6.5" fill="#1a1a1a" fill-opacity="0.7"/><circle cx="644" cy="448.3" r="6.5" fill="#1a1a1a" fill-opacity="0.7"/><circle cx="649.4" cy="449.7" r="6.5" fill="#1a1a1a" fill-opacity="0.7"/><circle cx="654.9" cy="445.1" r="6.5" fill="#1a1a1a" fill-opacity="0.7"/><circle cx="660.3" cy="454.8" r="6.5" fill="#1a1a1a" fill-opacity="0.7"/><circle cx="665.7" cy="451" r="6.5" fill="#1a1a1a" fill-opacity="0.7"/><circle cx="671.1" cy="445.9" r="6.5" fill="#1a1a1a" fill-opacity="0.7"/><circle cx="676.5" cy="453.7" r="6.5" fill="#1a1a1a" fill-opacity="0.7"/><circle cx="681.9" cy="458.3" r="6.5" fill="#1a1a1a" fill-opacity="0.7"/><polyline points="92,557.3 97.4,442.4 102.8,439.4 108.2,437.5 113.7,436.7 119.1,434.9 124.5,434.9 129.9,434.9 135.3,434.1 140.7,434.8 146.1,434.6 151.5,434.4 157,433.9 162.4,434.7 167.8,434.3 173.2,434.1 178.6,433.8 184,433.8 189.4,433.7 194.8,434.3 200.3,434.2 205.7,434.2 211.1,433.6 216.5,433.5 221.9,434.4 227.3,434.3 232.7,434.2 238.1,434.2 243.5,433.9 249,433.8 254.4,434.1 259.8,434.4 265.2,433.9 270.6,434 276,433.7 281.4,433.3 286.8,433.6 292.3,433.8 297.7,433.6 303.1,433.6 308.5,434.2 313.9,433.3 319.3,433.4 324.7,433.3 330.1,433.4 335.6,433.8 341,433.8 346.4,434.1 351.8,433.5 357.2,434.1 362.6,434.1 368,434 373.4,434 378.8,433.8 384.3,434.1 389.7,434.2 395.1,434 400.5,434.1 405.9,433.8 411.3,434.1 416.7,433.2 422.1,433.5 427.6,434 433,433.9 438.4,433.8 443.8,433.7 449.2,434 454.6,433.2 460,433 465.4,433.6 470.9,433.6 476.3,434 481.7,434 487.1,433.7 492.5,433.8 497.9,433.2 503.3,433.9 508.7,434.1 514.1,433.1 519.6,433.5 525,433.9 530.4,433.5 535.8,434.1 541.2,433.5 546.6,433 552,433.1 557.4,433.3 562.9,433.8 568.3,433.7 573.7,433.9 579.1,433.2 584.5,433.5 589.9,433.2 595.3,433.7 600.7,433.8 606.2,433.2 611.6,433 617,433.1 622.4,433.2 627.8,433.2 633.2,433.3 638.6,433.8 644,433.5 649.4,433.7 654.9,434 660.3,434 665.7,433.8 671.1,433.8 676.5,433.3 681.9,433 687.3,433.6 692.7,433 698.2,433 703.6,433 709,433.7 714.4,433.8 719.8,433.8 725.2,433.8 730.6,433.8 736,433.4 741.5,433.1 746.9,433.1 752.3,433.5 757.7,433.3 763.1,433.2 768.5,434 773.9,433.3 779.3,433.1 784.7,433.2 790.2,433.3 795.6,433.7 801,434.2 806.4,433.7 811.8,434.4 817.2,434.2 822.6,434.3 828,435.3 833.5,435.6 838.9,435.5 844.3,436.2 849.7,437.3 855.1,437.9 860.5,438.4 865.9,438.2 871.3,439 876.8,440.4 882.2,440.5 887.6,441.1 893,442.3 898.4,443.5 903.8,444.2 909.2,445.6 914.6,446.7 920,446.7 925.5,448.1" fill="none" stroke="#ff0000" stroke-width="1" opacity="0.7"/><circle cx="92" cy="557.3" r="6.5" fill="#ff0000" fill-opacity="0.9"/><circle cx="97.4" cy="442.4" r="6.5" fill="#ff0000" fill-opacity="0.9"/><circle cx="102.8" cy="439.4" r="6.5" fill="#ff0000" fill-opacity="0.9"/><circle cx="108.2" cy="437.5" r="6.5" fill="#ff0000" fill-opacity="0.9"/><circle cx="113.7" cy="436.7" r="6.5" fill="#ff0000" fill-opacity="0.9"/><circle cx="119.1" cy="434.9" r="6.5" fill="#ff0000" fill-opacity="0.9"/><circle cx="124.5" cy="434.9" r="6.5" fill="#ff0000" fill-opacity="0.9"/><circle cx="129.9" cy="434.9" r="6.5" fill="#ff0000" fill-opacity="0.9"/><circle cx="135.3" cy="434.1" r="6.5" fill="#ff0000" fill-opacity="0.9"/><circle cx="140.7" cy="434.8" r="6.5" fill="#ff0000" fill-opacity="0.9"/><circle cx="146.1" cy="434.6" r="6.5" fill="#ff0000" fill-opacity="0.9"/><circle cx="151.5" cy="434.4" r="6.5" fill="#ff0000" fill-opacity="0.9"/><circle cx="157" cy="433.9" r="6.5" fill="#ff0000" fill-opacity="0.9"/><circle cx="162.4" cy="434.7" r="6.5" fill="#ff0000" fill-opacity="0.9"/><circle cx="167.8" cy="434.3" r="6.5" fill="#ff0000" fill-opacity="0.9"/><circle cx="173.2" cy="434.1" r="6.5" fill="#ff0000" fill-opacity="0.9"/><circle cx="178.6" cy="433.8" r="6.5" fill="#ff0000" fill-opacity="0.9"/><circle cx="184" cy="433.8" r="6.5" fill="#ff0000" fill-opacity="0.9"/><circle cx="189.4" cy="433.7" r="6.5" fill="#ff0000" fill-opacity="0.9"/><circle cx="194.8" cy="434.3" r="6.5" fill="#ff0000" fill-opacity="0.9"/><circle cx="200.3" cy="434.2" r="6.5" fill="#ff0000" fill-opacity="0.9"/><circle cx="205.7" cy="434.2" r="6.5" fill="#ff0000" fill-opacity="0.9"/><circle cx="211.1" cy="433.6" r="6.5" fill="#ff0000" fill-opacity="0.9"/><circle cx="216.5" cy="433.5" r="6.5" fill="#ff0000" fill-opacity="0.9"/><circle cx="221.9" cy="434.4" r="6.5" fill="#ff0000" fill-opacity="0.9"/><circle cx="227.3" cy="434.3" r="6.5" fill="#ff0000" fill-opacity="0.9"/><circle cx="232.7" cy="434.2" r="6.5" fill="#ff0000" fill-opacity="0.9"/><circle cx="238.1" cy="434.2" r="6.5" fill="#ff0000" fill-opacity="0.9"/><circle cx="243.5" cy="433.9" r="6.5" fill="#ff0000" fill-opacity="0.9"/><circle cx="249" cy="433.8" r="6.5" fill="#ff0000" fill-opacity="0.9"/><circle cx="254.4" cy="434.1" r="6.5" fill="#ff0000" fill-opacity="0.9"/><circle cx="259.8" cy="434.4" r="6.5" fill="#ff0000" fill-opacity="0.9"/><circle cx="265.2" cy="433.9" r="6.5" fill="#ff0000" fill-opacity="0.9"/><circle cx="270.6" cy="434" r="6.5" fill="#ff0000" fill-opacity="0.9"/><circle cx="276" cy="433.7" r="6.5" fill="#ff0000" fill-opacity="0.9"/><circle cx="281.4" cy="433.3" r="6.5" fill="#ff0000" fill-opacity="0.9"/><circle cx="286.8" cy="433.6" r="6.5" fill="#ff0000" fill-opacity="0.9"/><circle cx="292.3" cy="433.8" r="6.5" fill="#ff0000" fill-opacity="0.9"/><circle cx="297.7" cy="433.6" r="6.5" fill="#ff0000" fill-opacity="0.9"/><circle cx="303.1" cy="433.6" r="6.5" fill="#ff0000" fill-opacity="0.9"/><circle cx="308.5" cy="434.2" r="6.5" fill="#ff0000" fill-opacity="0.9"/><circle cx="313.9" cy="433.3" r="6.5" fill="#ff0000" fill-opacity="0.9"/><circle cx="319.3" cy="433.4" r="6.5" fill="#ff0000" fill-opacity="0.9"/><circle cx="324.7" cy="433.3" r="6.5" fill="#ff0000" fill-opacity="0.9"/><circle cx="330.1" cy="433.4" r="6.5" fill="#ff0000" fill-opacity="0.9"/><circle cx="335.6" cy="433.8" r="6.5" fill="#ff0000" fill-opacity="0.9"/><circle cx="341" cy="433.8" r="6.5" fill="#ff0000" fill-opacity="0.9"/><circle cx="346.4" cy="434.1" r="6.5" fill="#ff0000" fill-opacity="0.9"/><circle cx="351.8" cy="433.5" r="6.5" fill="#ff0000" fill-opacity="0.9"/><circle cx="357.2" cy="434.1" r="6.5" fill="#ff0000" fill-opacity="0.9"/><circle cx="362.6" cy="434.1" r="6.5" fill="#ff0000" fill-opacity="0.9"/><circle cx="368" cy="434" r="6.5" fill="#ff0000" fill-opacity="0.9"/><circle cx="373.4" cy="434" r="6.5" fill="#ff0000" fill-opacity="0.9"/><circle cx="378.8" cy="433.8" r="6.5" fill="#ff0000" fill-opacity="0.9"/><circle cx="384.3" cy="434.1" r="6.5" fill="#ff0000" fill-opacity="0.9"/><circle cx="389.7" cy="434.2" r="6.5" fill="#ff0000" fill-opacity="0.9"/><circle cx="395.1" cy="434" r="6.5" fill="#ff0000" fill-opacity="0.9"/><circle cx="400.5" cy="434.1" r="6.5" fill="#ff0000" fill-opacity="0.9"/><circle cx="405.9" cy="433.8" r="6.5" fill="#ff0000" fill-opacity="0.9"/><circle cx="411.3" cy="434.1" r="6.5" fill="#ff0000" fill-opacity="0.9"/><circle cx="416.7" cy="433.2" r="6.5" fill="#ff0000" fill-opacity="0.9"/><circle cx="422.1" cy="433.5" r="6.5" fill="#ff0000" fill-opacity="0.9"/><circle cx="427.6" cy="434" r="6.5" fill="#ff0000" fill-opacity="0.9"/><circle cx="433" cy="433.9" r="6.5" fill="#ff0000" fill-opacity="0.9"/><circle cx="438.4" cy="433.8" r="6.5" fill="#ff0000" fill-opacity="0.9"/><circle cx="443.8" cy="433.7" r="6.5" fill="#ff0000" fill-opacity="0.9"/><circle cx="449.2" cy="434" r="6.5" fill="#ff0000" fill-opacity="0.9"/><circle cx="454.6" cy="433.2" r="6.5" fill="#ff0000" fill-opacity="0.9"/><circle cx="460" cy="433" r="6.5" fill="#ff0000" fill-opacity="0.9"/><circle cx="465.4" cy="433.6" r="6.5" fill="#ff0000" fill-opacity="0.9"/><circle cx="470.9" cy="433.6" r="6.5" fill="#ff0000" fill-opacity="0.9"/><circle cx="476.3" cy="434" r="6.5" fill="#ff0000" fill-opacity="0.9"/><circle cx="481.7" cy="434" r="6.5" fill="#ff0000" fill-opacity="0.9"/><circle cx="487.1" cy="433.7" r="6.5" fill="#ff0000" fill-opacity="0.9"/><circle cx="492.5" cy="433.8" r="6.5" fill="#ff0000" fill-opacity="0.9"/><circle cx="497.9" cy="433.2" r="6.5" fill="#ff0000" fill-opacity="0.9"/><circle cx="503.3" cy="433.9" r="6.5" fill="#ff0000" fill-opacity="0.9"/><circle cx="508.7" cy="434.1" r="6.5" fill="#ff0000" fill-opacity="0.9"/><circle cx="514.1" cy="433.1" r="6.5" fill="#ff0000" fill-opacity="0.9"/><circle cx="519.6" cy="433.5" r="6.5" fill="#ff0000" fill-opacity="0.9"/><circle cx="525" cy="433.9" r="6.5" fill="#ff0000" fill-opacity="0.9"/><circle cx="530.4" cy="433.5" r="6.5" fill="#ff0000" fill-opacity="0.9"/><circle cx="535.8" cy="434.1" r="6.5" fill="#ff0000" fill-opacity="0.9"/><circle cx="541.2" cy="433.5" r="6.5" fill="#ff0000" fill-opacity="0.9"/><circle cx="546.6" cy="433" r="6.5" fill="#ff0000" fill-opacity="0.9"/><circle cx="552" cy="433.1" r="6.5" fill="#ff0000" fill-opacity="0.9"/><circle cx="557.4" cy="433.3" r="6.5" fill="#ff0000" fill-opacity="0.9"/><circle cx="562.9" cy="433.8" r="6.5" fill="#ff0000" fill-opacity="0.9"/><circle cx="568.3" cy="433.7" r="6.5" fill="#ff0000" fill-opacity="0.9"/><circle cx="573.7" cy="433.9" r="6.5" fill="#ff0000" fill-opacity="0.9"/><circle cx="579.1" cy="433.2" r="6.5" fill="#ff0000" fill-opacity="0.9"/><circle cx="584.5" cy="433.5" r="6.5" fill="#ff0000" fill-opacity="0.9"/><circle cx="589.9" cy="433.2" r="6.5" fill="#ff0000" fill-opacity="0.9"/><circle cx="595.3" cy="433.7" r="6.5" fill="#ff0000" fill-opacity="0.9"/><circle cx="600.7" cy="433.8" r="6.5" fill="#ff0000" fill-opacity="0.9"/><circle cx="606.2" cy="433.2" r="6.5" fill="#ff0000" fill-opacity="0.9"/><circle cx="611.6" cy="433" r="6.5" fill="#ff0000" fill-opacity="0.9"/><circle cx="617" cy="433.1" r="6.5" fill="#ff0000" fill-opacity="0.9"/><circle cx="622.4" cy="433.2" r="6.5" fill="#ff0000" fill-opacity="0.9"/><circle cx="627.8" cy="433.2" r="6.5" fill="#ff0000" fill-opacity="0.9"/><circle cx="633.2" cy="433.3" r="6.5" fill="#ff0000" fill-opacity="0.9"/><circle cx="638.6" cy="433.8" r="6.5" fill="#ff0000" fill-opacity="0.9"/><circle cx="644" cy="433.5" r="6.5" fill="#ff0000" fill-opacity="0.9"/><circle cx="649.4" cy="433.7" r="6.5" fill="#ff0000" fill-opacity="0.9"/><circle cx="654.9" cy="434" r="6.5" fill="#ff0000" fill-opacity="0.9"/><circle cx="660.3" cy="434" r="6.5" fill="#ff0000" fill-opacity="0.9"/><circle cx="665.7" cy="433.8" r="6.5" fill="#ff0000" fill-opacity="0.9"/><circle cx="671.1" cy="433.8" r="6.5" fill="#ff0000" fill-opacity="0.9"/><circle cx="676.5" cy="433.3" r="6.5" fill="#ff0000" fill-opacity="0.9"/><circle cx="681.9" cy="433" r="6.5" fill="#ff0000" fill-opacity="0.9"/><circle cx="687.3" cy="433.6" r="6.5" fill="#ff0000" fill-opacity="0.9"/><circle cx="692.7" cy="433" r="6.5" fill="#ff0000" fill-opacity="0.9"/><circle cx="698.2" cy="433" r="6.5" fill="#ff0000" fill-opacity="0.9"/><circle cx="703.6" cy="433" r="6.5" fill="#ff0000" fill-opacity="0.9"/><circle cx="709" cy="433.7" r="6.5" fill="#ff0000" fill-opacity="0.9"/><circle cx="714.4" cy="433.8" r="6.5" fill="#ff0000" fill-opacity="0.9"/><circle cx="719.8" cy="433.8" r="6.5" fill="#ff0000" fill-opacity="0.9"/><circle cx="725.2" cy="433.8" r="6.5" fill="#ff0000" fill-opacity="0.9"/><circle cx="730.6" cy="433.8" r="6.5" fill="#ff0000" fill-opacity="0.9"/><circle cx="736" cy="433.4" r="6.5" fill="#ff0000" fill-opacity="0.9"/><circle cx="741.5" cy="433.1" r="6.5" fill="#ff0000" fill-opacity="0.9"/><circle cx="746.9" cy="433.1" r="6.5" fill="#ff0000" fill-opacity="0.9"/><circle cx="752.3" cy="433.5" r="6.5" fill="#ff0000" fill-opacity="0.9"/><circle cx="757.7" cy="433.3" r="6.5" fill="#ff0000" fill-opacity="0.9"/><circle cx="763.1" cy="433.2" r="6.5" fill="#ff0000" fill-opacity="0.9"/><circle cx="768.5" cy="434" r="6.5" fill="#ff0000" fill-opacity="0.9"/><circle cx="773.9" cy="433.3" r="6.5" fill="#ff0000" fill-opacity="0.9"/><circle cx="779.3" cy="433.1" r="6.5" fill="#ff0000" fill-opacity="0.9"/><circle cx="784.7" cy="433.2" r="6.5" fill="#ff0000" fill-opacity="0.9"/><circle cx="790.2" cy="433.3" r="6.5" fill="#ff0000" fill-opacity="0.9"/><circle cx="795.6" cy="433.7" r="6.5" fill="#ff0000" fill-opacity="0.9"/><circle cx="801" cy="434.2" r="6.5" fill="#ff0000" fill-opacity="0.9"/><circle cx="806.4" cy="433.7" r="6.5" fill="#ff0000" fill-opacity="0.9"/><circle cx="811.8" cy="434.4" r="6.5" fill="#ff0000" fill-opacity="0.9"/><circle cx="817.2" cy="434.2" r="6.5" fill="#ff0000" fill-opacity="0.9"/><circle cx="822.6" cy="434.3" r="6.5" fill="#ff0000" fill-opacity="0.9"/><circle cx="828" cy="435.3" r="6.5" fill="#ff0000" fill-opacity="0.9"/><circle cx="833.5" cy="435.6" r="6.5" fill="#ff0000" fill-opacity="0.9"/><circle cx="838.9" cy="435.5" r="6.5" fill="#ff0000" fill-opacity="0.9"/><circle cx="844.3" cy="436.2" r="6.5" fill="#ff0000" fill-opacity="0.9"/><circle cx="849.7" cy="437.3" r="6.5" fill="#ff0000" fill-opacity="0.9"/><circle cx="855.1" cy="437.9" r="6.5" fill="#ff0000" fill-opacity="0.9"/><circle cx="860.5" cy="438.4" r="6.5" fill="#ff0000" fill-opacity="0.9"/><circle cx="865.9" cy="438.2" r="6.5" fill="#ff0000" fill-opacity="0.9"/><circle cx="871.3" cy="439" r="6.5" fill="#ff0000" fill-opacity="0.9"/><circle cx="876.8" cy="440.4" r="6.5" fill="#ff0000" fill-opacity="0.9"/><circle cx="882.2" cy="440.5" r="6.5" fill="#ff0000" fill-opacity="0.9"/><circle cx="887.6" cy="441.1" r="6.5" fill="#ff0000" fill-opacity="0.9"/><circle cx="893" cy="442.3" r="6.5" fill="#ff0000" fill-opacity="0.9"/><circle cx="898.4" cy="443.5" r="6.5" fill="#ff0000" fill-opacity="0.9"/><circle cx="903.8" cy="444.2" r="6.5" fill="#ff0000" fill-opacity="0.9"/><circle cx="909.2" cy="445.6" r="6.5" fill="#ff0000" fill-opacity="0.9"/><circle cx="914.6" cy="446.7" r="6.5" fill="#ff0000" fill-opacity="0.9"/><circle cx="920" cy="446.7" r="6.5" fill="#ff0000" fill-opacity="0.9"/><circle cx="925.5" cy="448.1" r="6.5" fill="#ff0000" fill-opacity="0.9"/><polyline points="92,465.9 97.4,449.1 102.8,441.6 108.2,437.3 113.7,435.1 119.1,434 124.5,433.4 129.9,434 135.3,433.4 140.7,433.4 146.1,434.3 151.5,434.2 157,434.1 162.4,434.1 167.8,433.7 173.2,434.1 178.6,433.8 184,434.2 189.4,433.1 194.8,433.9 200.3,433.7 205.7,433.5 211.1,433.1 216.5,433.7 221.9,433 227.3,433.6 232.7,433.5 238.1,433.5 243.5,434.2 249,433.6 254.4,433.9 259.8,434.2 265.2,433.1 270.6,433.9 276,433.5 281.4,433.2 286.8,433.4 292.3,433.7 297.7,433.4 303.1,433.4 308.5,433 313.9,433.9 319.3,433.3 324.7,433.7 330.1,433.7 335.6,433 341,433.4 346.4,433.3 351.8,433 357.2,432.8 362.6,433.4 368,433.2 373.4,433.3 378.8,433.3 384.3,433.1 389.7,433.4 395.1,433.3 400.5,433.4 405.9,432.7 411.3,433 416.7,432.8 422.1,432.7 427.6,435.7 433,435.4 438.4,432.7 443.8,432.8 449.2,433.8 454.6,433.8 460,433.4 465.4,433.9 470.9,433.6 476.3,433.9 481.7,433.1 487.1,432.9 492.5,432.7 497.9,433.7 503.3,433 508.7,433.1 514.1,433.7 519.6,432.8 525,418.9 530.4,433.6 535.8,432.7 541.2,433.4 546.6,433.3 552,432.6 557.4,432.8 562.9,433.7 568.3,433.3 573.7,433.2 579.1,433.5 584.5,433.7 589.9,433.5 595.3,432.9 600.7,433.9 606.2,433.2 611.6,433.3 617,433.9 622.4,433.5 627.8,433.1 633.2,433.2 638.6,433.8 644,432.6 649.4,432.9 654.9,432.6 660.3,433.8 665.7,433.6 671.1,433.9 676.5,432.9 681.9,433.5 687.3,433.7 692.7,433.3 698.2,432.7 703.6,432.8 709,433.6 714.4,433.7 719.8,432.7 725.2,433.1 730.6,433 736,433.8 741.5,433.8 746.9,433 752.3,433.3 757.7,433.8 763.1,432.6 768.5,433.1 773.9,432.8 779.3,433.8 784.7,432.8 790.2,433.8 795.6,432.7 801,433.3 806.4,433.5 811.8,433.3 817.2,432.9 822.6,434 828,434.5 833.5,434.3 838.9,435.1 844.3,435.7 849.7,436.2 855.1,436.9 860.5,437.4 865.9,438 871.3,438.7 876.8,439 882.2,440.5 887.6,441.2 893,442.6 898.4,443.5 903.8,445.1 909.2,446 914.6,447.6 920,447.9 925.5,449.6 930.9,451.5 936.3,452.7 941.7,453.6" fill="none" stroke="#008000" stroke-width="1" opacity="0.7"/><circle cx="92" cy="465.9" r="6.5" fill="#008000" fill-opacity="0.72"/><circle cx="97.4" cy="449.1" r="6.5" fill="#008000" fill-opacity="0.72"/><circle cx="102.8" cy="441.6" r="6.5" fill="#008000" fill-opacity="0.72"/><circle cx="108.2" cy="437.3" r="6.5" fill="#008000" fill-opacity="0.72"/><circle cx="113.7" cy="435.1" r="6.5" fill="#008000" fill-opacity="0.72"/><circle cx="119.1" cy="434" r="6.5" fill="#008000" fill-opacity="0.72"/><circle cx="124.5" cy="433.4" r="6.5" fill="#008000" fill-opacity="0.72"/><circle cx="129.9" cy="434" r="6.5" fill="#008000" fill-opacity="0.72"/><circle cx="135.3" cy="433.4" r="6.5" fill="#008000" fill-opacity="0.72"/><circle cx="140.7" cy="433.4" r="6.5" fill="#008000" fill-opacity="0.72"/><circle cx="146.1" cy="434.3" r="6.5" fill="#008000" fill-opacity="0.72"/><circle cx="151.5" cy="434.2" r="6.5" fill="#008000" fill-opacity="0.72"/><circle cx="157" cy="434.1" r="6.5" fill="#008000" fill-opacity="0.72"/><circle cx="162.4" cy="434.1" r="6.5" fill="#008000" fill-opacity="0.72"/><circle cx="167.8" cy="433.7" r="6.5" fill="#008000" fill-opacity="0.72"/><circle cx="173.2" cy="434.1" r="6.5" fill="#008000" fill-opacity="0.72"/><circle cx="178.6" cy="433.8" r="6.5" fill="#008000" fill-opacity="0.72"/><circle cx="184" cy="434.2" r="6.5" fill="#008000" fill-opacity="0.72"/><circle cx="189.4" cy="433.1" r="6.5" fill="#008000" fill-opacity="0.72"/><circle cx="194.8" cy="433.9" r="6.5" fill="#008000" fill-opacity="0.72"/><circle cx="200.3" cy="433.7" r="6.5" fill="#008000" fill-opacity="0.72"/><circle cx="205.7" cy="433.5" r="6.5" fill="#008000" fill-opacity="0.72"/><circle cx="211.1" cy="433.1" r="6.5" fill="#008000" fill-opacity="0.72"/><circle cx="216.5" cy="433.7" r="6.5" fill="#008000" fill-opacity="0.72"/><circle cx="221.9" cy="433" r="6.5" fill="#008000" fill-opacity="0.72"/><circle cx="227.3" cy="433.6" r="6.5" fill="#008000" fill-opacity="0.72"/><circle cx="232.7" cy="433.5" r="6.5" fill="#008000" fill-opacity="0.72"/><circle cx="238.1" cy="433.5" r="6.5" fill="#008000" fill-opacity="0.72"/><circle cx="243.5" cy="434.2" r="6.5" fill="#008000" fill-opacity="0.72"/><circle cx="249" cy="433.6" r="6.5" fill="#008000" fill-opacity="0.72"/><circle cx="254.4" cy="433.9" r="6.5" fill="#008000" fill-opacity="0.72"/><circle cx="259.8" cy="434.2" r="6.5" fill="#008000" fill-opacity="0.72"/><circle cx="265.2" cy="433.1" r="6.5" fill="#008000" fill-opacity="0.72"/><circle cx="270.6" cy="433.9" r="6.5" fill="#008000" fill-opacity="0.72"/><circle cx="276" cy="433.5" r="6.5" fill="#008000" fill-opacity="0.72"/><circle cx="281.4" cy="433.2" r="6.5" fill="#008000" fill-opacity="0.72"/><circle cx="286.8" cy="433.4" r="6.5" fill="#008000" fill-opacity="0.72"/><circle cx="292.3" cy="433.7" r="6.5" fill="#008000" fill-opacity="0.72"/><circle cx="297.7" cy="433.4" r="6.5" fill="#008000" fill-opacity="0.72"/><circle cx="303.1" cy="433.4" r="6.5" fill="#008000" fill-opacity="0.72"/><circle cx="308.5" cy="433" r="6.5" fill="#008000" fill-opacity="0.72"/><circle cx="313.9" cy="433.9" r="6.5" fill="#008000" fill-opacity="0.72"/><circle cx="319.3" cy="433.3" r="6.5" fill="#008000" fill-opacity="0.72"/><circle cx="324.7" cy="433.7" r="6.5" fill="#008000" fill-opacity="0.72"/><circle cx="330.1" cy="433.7" r="6.5" fill="#008000" fill-opacity="0.72"/><circle cx="335.6" cy="433" r="6.5" fill="#008000" fill-opacity="0.72"/><circle cx="341" cy="433.4" r="6.5" fill="#008000" fill-opacity="0.72"/><circle cx="346.4" cy="433.3" r="6.5" fill="#008000" fill-opacity="0.72"/><circle cx="351.8" cy="433" r="6.5" fill="#008000" fill-opacity="0.72"/><circle cx="357.2" cy="432.8" r="6.5" fill="#008000" fill-opacity="0.72"/><circle cx="362.6" cy="433.4" r="6.5" fill="#008000" fill-opacity="0.72"/><circle cx="368" cy="433.2" r="6.5" fill="#008000" fill-opacity="0.72"/><circle cx="373.4" cy="433.3" r="6.5" fill="#008000" fill-opacity="0.72"/><circle cx="378.8" cy="433.3" r="6.5" fill="#008000" fill-opacity="0.72"/><circle cx="384.3" cy="433.1" r="6.5" fill="#008000" fill-opacity="0.72"/><circle cx="389.7" cy="433.4" r="6.5" fill="#008000" fill-opacity="0.72"/><circle cx="395.1" cy="433.3" r="6.5" fill="#008000" fill-opacity="0.72"/><circle cx="400.5" cy="433.4" r="6.5" fill="#008000" fill-opacity="0.72"/><circle cx="405.9" cy="432.7" r="6.5" fill="#008000" fill-opacity="0.72"/><circle cx="411.3" cy="433" r="6.5" fill="#008000" fill-opacity="0.72"/><circle cx="416.7" cy="432.8" r="6.5" fill="#008000" fill-opacity="0.72"/><circle cx="422.1" cy="432.7" r="6.5" fill="#008000" fill-opacity="0.72"/><circle cx="427.6" cy="435.7" r="6.5" fill="#008000" fill-opacity="0.72"/><circle cx="433" cy="435.4" r="6.5" fill="#008000" fill-opacity="0.72"/><circle cx="438.4" cy="432.7" r="6.5" fill="#008000" fill-opacity="0.72"/><circle cx="443.8" cy="432.8" r="6.5" fill="#008000" fill-opacity="0.72"/><circle cx="449.2" cy="433.8" r="6.5" fill="#008000" fill-opacity="0.72"/><circle cx="454.6" cy="433.8" r="6.5" fill="#008000" fill-opacity="0.72"/><circle cx="460" cy="433.4" r="6.5" fill="#008000" fill-opacity="0.72"/><circle cx="465.4" cy="433.9" r="6.5" fill="#008000" fill-opacity="0.72"/><circle cx="470.9" cy="433.6" r="6.5" fill="#008000" fill-opacity="0.72"/><circle cx="476.3" cy="433.9" r="6.5" fill="#008000" fill-opacity="0.72"/><circle cx="481.7" cy="433.1" r="6.5" fill="#008000" fill-opacity="0.72"/><circle cx="487.1" cy="432.9" r="6.5" fill="#008000" fill-opacity="0.72"/><circle cx="492.5" cy="432.7" r="6.5" fill="#008000" fill-opacity="0.72"/><circle cx="497.9" cy="433.7" r="6.5" fill="#008000" fill-opacity="0.72"/><circle cx="503.3" cy="433" r="6.5" fill="#008000" fill-opacity="0.72"/><circle cx="508.7" cy="433.1" r="6.5" fill="#008000" fill-opacity="0.72"/><circle cx="514.1" cy="433.7" r="6.5" fill="#008000" fill-opacity="0.72"/><circle cx="519.6" cy="432.8" r="6.5" fill="#008000" fill-opacity="0.72"/><circle cx="525" cy="418.9" r="6.5" fill="#008000" fill-opacity="0.72"/><circle cx="530.4" cy="433.6" r="6.5" fill="#008000" fill-opacity="0.72"/><circle cx="535.8" cy="432.7" r="6.5" fill="#008000" fill-opacity="0.72"/><circle cx="541.2" cy="433.4" r="6.5" fill="#008000" fill-opacity="0.72"/><circle cx="546.6" cy="433.3" r="6.5" fill="#008000" fill-opacity="0.72"/><circle cx="552" cy="432.6" r="6.5" fill="#008000" fill-opacity="0.72"/><circle cx="557.4" cy="432.8" r="6.5" fill="#008000" fill-opacity="0.72"/><circle cx="562.9" cy="433.7" r="6.5" fill="#008000" fill-opacity="0.72"/><circle cx="568.3" cy="433.3" r="6.5" fill="#008000" fill-opacity="0.72"/><circle cx="573.7" cy="433.2" r="6.5" fill="#008000" fill-opacity="0.72"/><circle cx="579.1" cy="433.5" r="6.5" fill="#008000" fill-opacity="0.72"/><circle cx="584.5" cy="433.7" r="6.5" fill="#008000" fill-opacity="0.72"/><circle cx="589.9" cy="433.5" r="6.5" fill="#008000" fill-opacity="0.72"/><circle cx="595.3" cy="432.9" r="6.5" fill="#008000" fill-opacity="0.72"/><circle cx="600.7" cy="433.9" r="6.5" fill="#008000" fill-opacity="0.72"/><circle cx="606.2" cy="433.2" r="6.5" fill="#008000" fill-opacity="0.72"/><circle cx="611.6" cy="433.3" r="6.5" fill="#008000" fill-opacity="0.72"/><circle cx="617" cy="433.9" r="6.5" fill="#008000" fill-opacity="0.72"/><circle cx="622.4" cy="433.5" r="6.5" fill="#008000" fill-opacity="0.72"/><circle cx="627.8" cy="433.1" r="6.5" fill="#008000" fill-opacity="0.72"/><circle cx="633.2" cy="433.2" r="6.5" fill="#008000" fill-opacity="0.72"/><circle cx="638.6" cy="433.8" r="6.5" fill="#008000" fill-opacity="0.72"/><circle cx="644" cy="432.6" r="6.5" fill="#008000" fill-opacity="0.72"/><circle cx="649.4" cy="432.9" r="6.5" fill="#008000" fill-opacity="0.72"/><circle cx="654.9" cy="432.6" r="6.5" fill="#008000" fill-opacity="0.72"/><circle cx="660.3" cy="433.8" r="6.5" fill="#008000" fill-opacity="0.72"/><circle cx="665.7" cy="433.6" r="6.5" fill="#008000" fill-opacity="0.72"/><circle cx="671.1" cy="433.9" r="6.5" fill="#008000" fill-opacity="0.72"/><circle cx="676.5" cy="432.9" r="6.5" fill="#008000" fill-opacity="0.72"/><circle cx="681.9" cy="433.5" r="6.5" fill="#008000" fill-opacity="0.72"/><circle cx="687.3" cy="433.7" r="6.5" fill="#008000" fill-opacity="0.72"/><circle cx="692.7" cy="433.3" r="6.5" fill="#008000" fill-opacity="0.72"/><circle cx="698.2" cy="432.7" r="6.5" fill="#008000" fill-opacity="0.72"/><circle cx="703.6" cy="432.8" r="6.5" fill="#008000" fill-opacity="0.72"/><circle cx="709" cy="433.6" r="6.5" fill="#008000" fill-opacity="0.72"/><circle cx="714.4" cy="433.7" r="6.5" fill="#008000" fill-opacity="0.72"/><circle cx="719.8" cy="432.7" r="6.5" fill="#008000" fill-opacity="0.72"/><circle cx="725.2" cy="433.1" r="6.5" fill="#008000" fill-opacity="0.72"/><circle cx="730.6" cy="433" r="6.5" fill="#008000" fill-opacity="0.72"/><circle cx="736" cy="433.8" r="6.5" fill="#008000" fill-opacity="0.72"/><circle cx="741.5" cy="433.8" r="6.5" fill="#008000" fill-opacity="0.72"/><circle cx="746.9" cy="433" r="6.5" fill="#008000" fill-opacity="0.72"/><circle cx="752.3" cy="433.3" r="6.5" fill="#008000" fill-opacity="0.72"/><circle cx="757.7" cy="433.8" r="6.5" fill="#008000" fill-opacity="0.72"/><circle cx="763.1" cy="432.6" r="6.5" fill="#008000" fill-opacity="0.72"/><circle cx="768.5" cy="433.1" r="6.5" fill="#008000" fill-opacity="0.72"/><circle cx="773.9" cy="432.8" r="6.5" fill="#008000" fill-opacity="0.72"/><circle cx="779.3" cy="433.8" r="6.5" fill="#008000" fill-opacity="0.72"/><circle cx="784.7" cy="432.8" r="6.5" fill="#008000" fill-opacity="0.72"/><circle cx="790.2" cy="433.8" r="6.5" fill="#008000" fill-opacity="0.72"/><circle cx="795.6" cy="432.7" r="6.5" fill="#008000" fill-opacity="0.72"/><circle cx="801" cy="433.3" r="6.5" fill="#008000" fill-opacity="0.72"/><circle cx="806.4" cy="433.5" r="6.5" fill="#008000" fill-opacity="0.72"/><circle cx="811.8" cy="433.3" r="6.5" fill="#008000" fill-opacity="0.72"/><circle cx="817.2" cy="432.9" r="6.5" fill="#008000" fill-opacity="0.72"/><circle cx="822.6" cy="434" r="6.5" fill="#008000" fill-opacity="0.72"/><circle cx="828" cy="434.5" r="6.5" fill="#008000" fill-opacity="0.72"/><circle cx="833.5" cy="434.3" r="6.5" fill="#008000" fill-opacity="0.72"/><circle cx="838.9" cy="435.1" r="6.5" fill="#008000" fill-opacity="0.72"/><circle cx="844.3" cy="435.7" r="6.5" fill="#008000" fill-opacity="0.72"/><circle cx="849.7" cy="436.2" r="6.5" fill="#008000" fill-opacity="0.72"/><circle cx="855.1" cy="436.9" r="6.5" fill="#008000" fill-opacity="0.72"/><circle cx="860.5" cy="437.4" r="6.5" fill="#008000" fill-opacity="0.72"/><circle cx="865.9" cy="438" r="6.5" fill="#008000" fill-opacity="0.72"/><circle cx="871.3" cy="438.7" r="6.5" fill="#008000" fill-opacity="0.72"/><circle cx="876.8" cy="439" r="6.5" fill="#008000" fill-opacity="0.72"/><circle cx="882.2" cy="440.5" r="6.5" fill="#008000" fill-opacity="0.72"/><circle cx="887.6" cy="441.2" r="6.5" fill="#008000" fill-opacity="0.72"/><circle cx="893" cy="442.6" r="6.5" fill="#008000" fill-opacity="0.72"/><circle cx="898.4" cy="443.5" r="6.5" fill="#008000" fill-opacity="0.72"/><circle cx="903.8" cy="445.1" r="6.5" fill="#008000" fill-opacity="0.72"/><circle cx="909.2" cy="446" r="6.5" fill="#008000" fill-opacity="0.72"/><circle cx="914.6" cy="447.6" r="6.5" fill="#008000" fill-opacity="0.72"/><circle cx="920" cy="447.9" r="6.5" fill="#008000" fill-opacity="0.72"/><circle cx="925.5" cy="449.6" r="6.5" fill="#008000" fill-opacity="0.72"/><circle cx="930.9" cy="451.5" r="6.5" fill="#008000" fill-opacity="0.72"/><circle cx="936.3" cy="452.7" r="6.5" fill="#008000" fill-opacity="0.72"/><circle cx="941.7" cy="453.6" r="6.5" fill="#008000" fill-opacity="0.72"/><polyline points="92,541.4 97.4,461.6 102.8,444 108.2,440.2 113.7,438.4 119.1,436.9 124.5,435.6 129.9,435.1 135.3,434.5 140.7,433.7 146.1,433.6 151.5,433.1 157,432.6 162.4,432.2 167.8,432.3 173.2,431.8 178.6,431.7 184,431.5 189.4,431.5 194.8,431.4 200.3,431.5 205.7,431.4 211.1,431.3 216.5,430.8 221.9,431.1 227.3,431.1 232.7,431.1 238.1,430.6 243.5,430.5 249,430.6 254.4,430.8 259.8,430.8 265.2,430.8 270.6,430.7 276,430.8 281.4,430.6 286.8,430.8 292.3,430.3 297.7,430.3 303.1,430.5 308.5,430.7 313.9,430.3 319.3,430.7 324.7,430.6 330.1,430.9 335.6,430.6 341,430.6 346.4,430.5 351.8,430.7 357.2,430.5 362.6,430.9 368,430.7 373.4,430.8 378.8,430.6 384.3,430.8 389.7,430.8 395.1,430.7 400.5,430.7 405.9,430.5 411.3,430.5 416.7,430.4 422.1,430.4 427.6,430.4 433,430.3 438.4,430.6 443.8,430.6 449.2,430.2 454.6,430.8 460,430.4 465.4,430.4 470.9,430.8 476.3,430.3 481.7,430.3 487.1,430.4 492.5,430.4 497.9,430.3 503.3,430.8 508.7,430.5 514.1,430.5 519.6,430.3 525,430.3 530.4,430.3 535.8,430.5 541.2,430.3 546.6,430.4 552,430.4 557.4,430.7 562.9,430.8 568.3,430.8 573.7,430.6 579.1,430.8 584.5,430.3 589.9,430.5 595.3,430.4 600.7,430.4 606.2,430.4 611.6,430.5 617,430.8 622.4,430.3 627.8,430.4 633.2,430.5 638.6,430.5 644,430.4 649.4,430.8 654.9,430.4 660.3,430.7 665.7,430.8 671.1,430.7 676.5,430.4 681.9,430.7 687.3,430.4 692.7,430.2 698.2,430.5 703.6,430.6 709,430.5 714.4,430.4 719.8,430.4 725.2,430.5 730.6,430.4 736,430.8 741.5,430.8 746.9,430.7 752.3,430.4 757.7,430.7 763.1,430.5 768.5,430.8 773.9,430.8 779.3,430.7 784.7,430.4 790.2,430.4 795.6,430.4 801,430.7 806.4,430.5 811.8,430.6 817.2,430.5 822.6,430.8 828,430.3 833.5,430.7 838.9,430.2 844.3,430.2 849.7,430.8 855.1,430.6 860.5,430.3 865.9,430.2 871.3,430.6 876.8,430.7 882.2,430.7 887.6,430.2 893,430.7 898.4,430.4 903.8,431.6 909.2,430.6 914.6,429.4 920,431.7 925.5,429.8 930.9,430.6 936.3,429.6 941.7,430.1 947.1,431.4 952.5,429.6 957.9,430.7 963.3,431.9 968.8,432 974.2,430.7 979.6,430.8 985,431.2 990.4,431.6 995.8,431.1 1001.2,431.2 1006.6,433.5 1012.1,427.3 1017.5,429.4 1022.9,429.7 1028.3,427.6 1033.7,429.5 1039.1,434 1044.5,429.6 1049.9,431.2 1055.3,431 1060.8,431 1066.2,429.3 1071.6,430.4 1077,431 1082.4,430.9 1087.8,430 1093.2,431.9 1098.6,431.7 1104.1,429.8 1109.5,431.2 1114.9,429.5 1120.3,431.3 1125.7,431.3 1131.1,430.6 1136.5,431.5 1141.9,426.5 1147.4,434.6 1152.8,429.6 1158.2,429.8 1163.6,430.3 1169,426.2 1174.4,433.5 1179.8,430.5 1185.2,430.1 1190.6,426.5 1196.1,434.6" fill="none" stroke="#ff8000" stroke-width="1" opacity="0.7"/><circle cx="92" cy="541.4" r="6.5" fill="#ff8000" fill-opacity="0.8"/><circle cx="97.4" cy="461.6" r="6.5" fill="#ff8000" fill-opacity="0.8"/><circle cx="102.8" cy="444" r="6.5" fill="#ff8000" fill-opacity="0.8"/><circle cx="108.2" cy="440.2" r="6.5" fill="#ff8000" fill-opacity="0.8"/><circle cx="113.7" cy="438.4" r="6.5" fill="#ff8000" fill-opacity="0.8"/><circle cx="119.1" cy="436.9" r="6.5" fill="#ff8000" fill-opacity="0.8"/><circle cx="124.5" cy="435.6" r="6.5" fill="#ff8000" fill-opacity="0.8"/><circle cx="129.9" cy="435.1" r="6.5" fill="#ff8000" fill-opacity="0.8"/><circle cx="135.3" cy="434.5" r="6.5" fill="#ff8000" fill-opacity="0.8"/><circle cx="140.7" cy="433.7" r="6.5" fill="#ff8000" fill-opacity="0.8"/><circle cx="146.1" cy="433.6" r="6.5" fill="#ff8000" fill-opacity="0.8"/><circle cx="151.5" cy="433.1" r="6.5" fill="#ff8000" fill-opacity="0.8"/><circle cx="157" cy="432.6" r="6.5" fill="#ff8000" fill-opacity="0.8"/><circle cx="162.4" cy="432.2" r="6.5" fill="#ff8000" fill-opacity="0.8"/><circle cx="167.8" cy="432.3" r="6.5" fill="#ff8000" fill-opacity="0.8"/><circle cx="173.2" cy="431.8" r="6.5" fill="#ff8000" fill-opacity="0.8"/><circle cx="178.6" cy="431.7" r="6.5" fill="#ff8000" fill-opacity="0.8"/><circle cx="184" cy="431.5" r="6.5" fill="#ff8000" fill-opacity="0.8"/><circle cx="189.4" cy="431.5" r="6.5" fill="#ff8000" fill-opacity="0.8"/><circle cx="194.8" cy="431.4" r="6.5" fill="#ff8000" fill-opacity="0.8"/><circle cx="200.3" cy="431.5" r="6.5" fill="#ff8000" fill-opacity="0.8"/><circle cx="205.7" cy="431.4" r="6.5" fill="#ff8000" fill-opacity="0.8"/><circle cx="211.1" cy="431.3" r="6.5" fill="#ff8000" fill-opacity="0.8"/><circle cx="216.5" cy="430.8" r="6.5" fill="#ff8000" fill-opacity="0.8"/><circle cx="221.9" cy="431.1" r="6.5" fill="#ff8000" fill-opacity="0.8"/><circle cx="227.3" cy="431.1" r="6.5" fill="#ff8000" fill-opacity="0.8"/><circle cx="232.7" cy="431.1" r="6.5" fill="#ff8000" fill-opacity="0.8"/><circle cx="238.1" cy="430.6" r="6.5" fill="#ff8000" fill-opacity="0.8"/><circle cx="243.5" cy="430.5" r="6.5" fill="#ff8000" fill-opacity="0.8"/><circle cx="249" cy="430.6" r="6.5" fill="#ff8000" fill-opacity="0.8"/><circle cx="254.4" cy="430.8" r="6.5" fill="#ff8000" fill-opacity="0.8"/><circle cx="259.8" cy="430.8" r="6.5" fill="#ff8000" fill-opacity="0.8"/><circle cx="265.2" cy="430.8" r="6.5" fill="#ff8000" fill-opacity="0.8"/><circle cx="270.6" cy="430.7" r="6.5" fill="#ff8000" fill-opacity="0.8"/><circle cx="276" cy="430.8" r="6.5" fill="#ff8000" fill-opacity="0.8"/><circle cx="281.4" cy="430.6" r="6.5" fill="#ff8000" fill-opacity="0.8"/><circle cx="286.8" cy="430.8" r="6.5" fill="#ff8000" fill-opacity="0.8"/><circle cx="292.3" cy="430.3" r="6.5" fill="#ff8000" fill-opacity="0.8"/><circle cx="297.7" cy="430.3" r="6.5" fill="#ff8000" fill-opacity="0.8"/><circle cx="303.1" cy="430.5" r="6.5" fill="#ff8000" fill-opacity="0.8"/><circle cx="308.5" cy="430.7" r="6.5" fill="#ff8000" fill-opacity="0.8"/><circle cx="313.9" cy="430.3" r="6.5" fill="#ff8000" fill-opacity="0.8"/><circle cx="319.3" cy="430.7" r="6.5" fill="#ff8000" fill-opacity="0.8"/><circle cx="324.7" cy="430.6" r="6.5" fill="#ff8000" fill-opacity="0.8"/><circle cx="330.1" cy="430.9" r="6.5" fill="#ff8000" fill-opacity="0.8"/><circle cx="335.6" cy="430.6" r="6.5" fill="#ff8000" fill-opacity="0.8"/><circle cx="341" cy="430.6" r="6.5" fill="#ff8000" fill-opacity="0.8"/><circle cx="346.4" cy="430.5" r="6.5" fill="#ff8000" fill-opacity="0.8"/><circle cx="351.8" cy="430.7" r="6.5" fill="#ff8000" fill-opacity="0.8"/><circle cx="357.2" cy="430.5" r="6.5" fill="#ff8000" fill-opacity="0.8"/><circle cx="362.6" cy="430.9" r="6.5" fill="#ff8000" fill-opacity="0.8"/><circle cx="368" cy="430.7" r="6.5" fill="#ff8000" fill-opacity="0.8"/><circle cx="373.4" cy="430.8" r="6.5" fill="#ff8000" fill-opacity="0.8"/><circle cx="378.8" cy="430.6" r="6.5" fill="#ff8000" fill-opacity="0.8"/><circle cx="384.3" cy="430.8" r="6.5" fill="#ff8000" fill-opacity="0.8"/><circle cx="389.7" cy="430.8" r="6.5" fill="#ff8000" fill-opacity="0.8"/><circle cx="395.1" cy="430.7" r="6.5" fill="#ff8000" fill-opacity="0.8"/><circle cx="400.5" cy="430.7" r="6.5" fill="#ff8000" fill-opacity="0.8"/><circle cx="405.9" cy="430.5" r="6.5" fill="#ff8000" fill-opacity="0.8"/><circle cx="411.3" cy="430.5" r="6.5" fill="#ff8000" fill-opacity="0.8"/><circle cx="416.7" cy="430.4" r="6.5" fill="#ff8000" fill-opacity="0.8"/><circle cx="422.1" cy="430.4" r="6.5" fill="#ff8000" fill-opacity="0.8"/><circle cx="427.6" cy="430.4" r="6.5" fill="#ff8000" fill-opacity="0.8"/><circle cx="433" cy="430.3" r="6.5" fill="#ff8000" fill-opacity="0.8"/><circle cx="438.4" cy="430.6" r="6.5" fill="#ff8000" fill-opacity="0.8"/><circle cx="443.8" cy="430.6" r="6.5" fill="#ff8000" fill-opacity="0.8"/><circle cx="449.2" cy="430.2" r="6.5" fill="#ff8000" fill-opacity="0.8"/><circle cx="454.6" cy="430.8" r="6.5" fill="#ff8000" fill-opacity="0.8"/><circle cx="460" cy="430.4" r="6.5" fill="#ff8000" fill-opacity="0.8"/><circle cx="465.4" cy="430.4" r="6.5" fill="#ff8000" fill-opacity="0.8"/><circle cx="470.9" cy="430.8" r="6.5" fill="#ff8000" fill-opacity="0.8"/><circle cx="476.3" cy="430.3" r="6.5" fill="#ff8000" fill-opacity="0.8"/><circle cx="481.7" cy="430.3" r="6.5" fill="#ff8000" fill-opacity="0.8"/><circle cx="487.1" cy="430.4" r="6.5" fill="#ff8000" fill-opacity="0.8"/><circle cx="492.5" cy="430.4" r="6.5" fill="#ff8000" fill-opacity="0.8"/><circle cx="497.9" cy="430.3" r="6.5" fill="#ff8000" fill-opacity="0.8"/><circle cx="503.3" cy="430.8" r="6.5" fill="#ff8000" fill-opacity="0.8"/><circle cx="508.7" cy="430.5" r="6.5" fill="#ff8000" fill-opacity="0.8"/><circle cx="514.1" cy="430.5" r="6.5" fill="#ff8000" fill-opacity="0.8"/><circle cx="519.6" cy="430.3" r="6.5" fill="#ff8000" fill-opacity="0.8"/><circle cx="525" cy="430.3" r="6.5" fill="#ff8000" fill-opacity="0.8"/><circle cx="530.4" cy="430.3" r="6.5" fill="#ff8000" fill-opacity="0.8"/><circle cx="535.8" cy="430.5" r="6.5" fill="#ff8000" fill-opacity="0.8"/><circle cx="541.2" cy="430.3" r="6.5" fill="#ff8000" fill-opacity="0.8"/><circle cx="546.6" cy="430.4" r="6.5" fill="#ff8000" fill-opacity="0.8"/><circle cx="552" cy="430.4" r="6.5" fill="#ff8000" fill-opacity="0.8"/><circle cx="557.4" cy="430.7" r="6.5" fill="#ff8000" fill-opacity="0.8"/><circle cx="562.9" cy="430.8" r="6.5" fill="#ff8000" fill-opacity="0.8"/><circle cx="568.3" cy="430.8" r="6.5" fill="#ff8000" fill-opacity="0.8"/><circle cx="573.7" cy="430.6" r="6.5" fill="#ff8000" fill-opacity="0.8"/><circle cx="579.1" cy="430.8" r="6.5" fill="#ff8000" fill-opacity="0.8"/><circle cx="584.5" cy="430.3" r="6.5" fill="#ff8000" fill-opacity="0.8"/><circle cx="589.9" cy="430.5" r="6.5" fill="#ff8000" fill-opacity="0.8"/><circle cx="595.3" cy="430.4" r="6.5" fill="#ff8000" fill-opacity="0.8"/><circle cx="600.7" cy="430.4" r="6.5" fill="#ff8000" fill-opacity="0.8"/><circle cx="606.2" cy="430.4" r="6.5" fill="#ff8000" fill-opacity="0.8"/><circle cx="611.6" cy="430.5" r="6.5" fill="#ff8000" fill-opacity="0.8"/><circle cx="617" cy="430.8" r="6.5" fill="#ff8000" fill-opacity="0.8"/><circle cx="622.4" cy="430.3" r="6.5" fill="#ff8000" fill-opacity="0.8"/><circle cx="627.8" cy="430.4" r="6.5" fill="#ff8000" fill-opacity="0.8"/><circle cx="633.2" cy="430.5" r="6.5" fill="#ff8000" fill-opacity="0.8"/><circle cx="638.6" cy="430.5" r="6.5" fill="#ff8000" fill-opacity="0.8"/><circle cx="644" cy="430.4" r="6.5" fill="#ff8000" fill-opacity="0.8"/><circle cx="649.4" cy="430.8" r="6.5" fill="#ff8000" fill-opacity="0.8"/><circle cx="654.9" cy="430.4" r="6.5" fill="#ff8000" fill-opacity="0.8"/><circle cx="660.3" cy="430.7" r="6.5" fill="#ff8000" fill-opacity="0.8"/><circle cx="665.7" cy="430.8" r="6.5" fill="#ff8000" fill-opacity="0.8"/><circle cx="671.1" cy="430.7" r="6.5" fill="#ff8000" fill-opacity="0.8"/><circle cx="676.5" cy="430.4" r="6.5" fill="#ff8000" fill-opacity="0.8"/><circle cx="681.9" cy="430.7" r="6.5" fill="#ff8000" fill-opacity="0.8"/><circle cx="687.3" cy="430.4" r="6.5" fill="#ff8000" fill-opacity="0.8"/><circle cx="692.7" cy="430.2" r="6.5" fill="#ff8000" fill-opacity="0.8"/><circle cx="698.2" cy="430.5" r="6.5" fill="#ff8000" fill-opacity="0.8"/><circle cx="703.6" cy="430.6" r="6.5" fill="#ff8000" fill-opacity="0.8"/><circle cx="709" cy="430.5" r="6.5" fill="#ff8000" fill-opacity="0.8"/><circle cx="714.4" cy="430.4" r="6.5" fill="#ff8000" fill-opacity="0.8"/><circle cx="719.8" cy="430.4" r="6.5" fill="#ff8000" fill-opacity="0.8"/><circle cx="725.2" cy="430.5" r="6.5" fill="#ff8000" fill-opacity="0.8"/><circle cx="730.6" cy="430.4" r="6.5" fill="#ff8000" fill-opacity="0.8"/><circle cx="736" cy="430.8" r="6.5" fill="#ff8000" fill-opacity="0.8"/><circle cx="741.5" cy="430.8" r="6.5" fill="#ff8000" fill-opacity="0.8"/><circle cx="746.9" cy="430.7" r="6.5" fill="#ff8000" fill-opacity="0.8"/><circle cx="752.3" cy="430.4" r="6.5" fill="#ff8000" fill-opacity="0.8"/><circle cx="757.7" cy="430.7" r="6.5" fill="#ff8000" fill-opacity="0.8"/><circle cx="763.1" cy="430.5" r="6.5" fill="#ff8000" fill-opacity="0.8"/><circle cx="768.5" cy="430.8" r="6.5" fill="#ff8000" fill-opacity="0.8"/><circle cx="773.9" cy="430.8" r="6.5" fill="#ff8000" fill-opacity="0.8"/><circle cx="779.3" cy="430.7" r="6.5" fill="#ff8000" fill-opacity="0.8"/><circle cx="784.7" cy="430.4" r="6.5" fill="#ff8000" fill-opacity="0.8"/><circle cx="790.2" cy="430.4" r="6.5" fill="#ff8000" fill-opacity="0.8"/><circle cx="795.6" cy="430.4" r="6.5" fill="#ff8000" fill-opacity="0.8"/><circle cx="801" cy="430.7" r="6.5" fill="#ff8000" fill-opacity="0.8"/><circle cx="806.4" cy="430.5" r="6.5" fill="#ff8000" fill-opacity="0.8"/><circle cx="811.8" cy="430.6" r="6.5" fill="#ff8000" fill-opacity="0.8"/><circle cx="817.2" cy="430.5" r="6.5" fill="#ff8000" fill-opacity="0.8"/><circle cx="822.6" cy="430.8" r="6.5" fill="#ff8000" fill-opacity="0.8"/><circle cx="828" cy="430.3" r="6.5" fill="#ff8000" fill-opacity="0.8"/><circle cx="833.5" cy="430.7" r="6.5" fill="#ff8000" fill-opacity="0.8"/><circle cx="838.9" cy="430.2" r="6.5" fill="#ff8000" fill-opacity="0.8"/><circle cx="844.3" cy="430.2" r="6.5" fill="#ff8000" fill-opacity="0.8"/><circle cx="849.7" cy="430.8" r="6.5" fill="#ff8000" fill-opacity="0.8"/><circle cx="855.1" cy="430.6" r="6.5" fill="#ff8000" fill-opacity="0.8"/><circle cx="860.5" cy="430.3" r="6.5" fill="#ff8000" fill-opacity="0.8"/><circle cx="865.9" cy="430.2" r="6.5" fill="#ff8000" fill-opacity="0.8"/><circle cx="871.3" cy="430.6" r="6.5" fill="#ff8000" fill-opacity="0.8"/><circle cx="876.8" cy="430.7" r="6.5" fill="#ff8000" fill-opacity="0.8"/><circle cx="882.2" cy="430.7" r="6.5" fill="#ff8000" fill-opacity="0.8"/><circle cx="887.6" cy="430.2" r="6.5" fill="#ff8000" fill-opacity="0.8"/><circle cx="893" cy="430.7" r="6.5" fill="#ff8000" fill-opacity="0.8"/><circle cx="898.4" cy="430.4" r="6.5" fill="#ff8000" fill-opacity="0.8"/><circle cx="903.8" cy="431.6" r="6.5" fill="#ff8000" fill-opacity="0.8"/><circle cx="909.2" cy="430.6" r="6.5" fill="#ff8000" fill-opacity="0.8"/><circle cx="914.6" cy="429.4" r="6.5" fill="#ff8000" fill-opacity="0.8"/><circle cx="920" cy="431.7" r="6.5" fill="#ff8000" fill-opacity="0.8"/><circle cx="925.5" cy="429.8" r="6.5" fill="#ff8000" fill-opacity="0.8"/><circle cx="930.9" cy="430.6" r="6.5" fill="#ff8000" fill-opacity="0.8"/><circle cx="936.3" cy="429.6" r="6.5" fill="#ff8000" fill-opacity="0.8"/><circle cx="941.7" cy="430.1" r="6.5" fill="#ff8000" fill-opacity="0.8"/><circle cx="947.1" cy="431.4" r="6.5" fill="#ff8000" fill-opacity="0.8"/><circle cx="952.5" cy="429.6" r="6.5" fill="#ff8000" fill-opacity="0.8"/><circle cx="957.9" cy="430.7" r="6.5" fill="#ff8000" fill-opacity="0.8"/><circle cx="963.3" cy="431.9" r="6.5" fill="#ff8000" fill-opacity="0.8"/><circle cx="968.8" cy="432" r="6.5" fill="#ff8000" fill-opacity="0.8"/><circle cx="974.2" cy="430.7" r="6.5" fill="#ff8000" fill-opacity="0.8"/><circle cx="979.6" cy="430.8" r="6.5" fill="#ff8000" fill-opacity="0.8"/><circle cx="985" cy="431.2" r="6.5" fill="#ff8000" fill-opacity="0.8"/><circle cx="990.4" cy="431.6" r="6.5" fill="#ff8000" fill-opacity="0.8"/><circle cx="995.8" cy="431.1" r="6.5" fill="#ff8000" fill-opacity="0.8"/><circle cx="1001.2" cy="431.2" r="6.5" fill="#ff8000" fill-opacity="0.8"/><circle cx="1006.6" cy="433.5" r="6.5" fill="#ff8000" fill-opacity="0.8"/><circle cx="1012.1" cy="427.3" r="6.5" fill="#ff8000" fill-opacity="0.8"/><circle cx="1017.5" cy="429.4" r="6.5" fill="#ff8000" fill-opacity="0.8"/><circle cx="1022.9" cy="429.7" r="6.5" fill="#ff8000" fill-opacity="0.8"/><circle cx="1028.3" cy="427.6" r="6.5" fill="#ff8000" fill-opacity="0.8"/><circle cx="1033.7" cy="429.5" r="6.5" fill="#ff8000" fill-opacity="0.8"/><circle cx="1039.1" cy="434" r="6.5" fill="#ff8000" fill-opacity="0.8"/><circle cx="1044.5" cy="429.6" r="6.5" fill="#ff8000" fill-opacity="0.8"/><circle cx="1049.9" cy="431.2" r="6.5" fill="#ff8000" fill-opacity="0.8"/><circle cx="1055.3" cy="431" r="6.5" fill="#ff8000" fill-opacity="0.8"/><circle cx="1060.8" cy="431" r="6.5" fill="#ff8000" fill-opacity="0.8"/><circle cx="1066.2" cy="429.3" r="6.5" fill="#ff8000" fill-opacity="0.8"/><circle cx="1071.6" cy="430.4" r="6.5" fill="#ff8000" fill-opacity="0.8"/><circle cx="1077" cy="431" r="6.5" fill="#ff8000" fill-opacity="0.8"/><circle cx="1082.4" cy="430.9" r="6.5" fill="#ff8000" fill-opacity="0.8"/><circle cx="1087.8" cy="430" r="6.5" fill="#ff8000" fill-opacity="0.8"/><circle cx="1093.2" cy="431.9" r="6.5" fill="#ff8000" fill-opacity="0.8"/><circle cx="1098.6" cy="431.7" r="6.5" fill="#ff8000" fill-opacity="0.8"/><circle cx="1104.1" cy="429.8" r="6.5" fill="#ff8000" fill-opacity="0.8"/><circle cx="1109.5" cy="431.2" r="6.5" fill="#ff8000" fill-opacity="0.8"/><circle cx="1114.9" cy="429.5" r="6.5" fill="#ff8000" fill-opacity="0.8"/><circle cx="1120.3" cy="431.3" r="6.5" fill="#ff8000" fill-opacity="0.8"/><circle cx="1125.7" cy="431.3" r="6.5" fill="#ff8000" fill-opacity="0.8"/><circle cx="1131.1" cy="430.6" r="6.5" fill="#ff8000" fill-opacity="0.8"/><circle cx="1136.5" cy="431.5" r="6.5" fill="#ff8000" fill-opacity="0.8"/><circle cx="1141.9" cy="426.5" r="6.5" fill="#ff8000" fill-opacity="0.8"/><circle cx="1147.4" cy="434.6" r="6.5" fill="#ff8000" fill-opacity="0.8"/><circle cx="1152.8" cy="429.6" r="6.5" fill="#ff8000" fill-opacity="0.8"/><circle cx="1158.2" cy="429.8" r="6.5" fill="#ff8000" fill-opacity="0.8"/><circle cx="1163.6" cy="430.3" r="6.5" fill="#ff8000" fill-opacity="0.8"/><circle cx="1169" cy="426.2" r="6.5" fill="#ff8000" fill-opacity="0.8"/><circle cx="1174.4" cy="433.5" r="6.5" fill="#ff8000" fill-opacity="0.8"/><circle cx="1179.8" cy="430.5" r="6.5" fill="#ff8000" fill-opacity="0.8"/><circle cx="1185.2" cy="430.1" r="6.5" fill="#ff8000" fill-opacity="0.8"/><circle cx="1190.6" cy="426.5" r="6.5" fill="#ff8000" fill-opacity="0.8"/><circle cx="1196.1" cy="434.6" r="6.5" fill="#ff8000" fill-opacity="0.8"/></g><rect x="1198.3" y="398" width="7.7" height="341" fill="#fff"/><rect x="86.6" y="403.8" width="1110.7" height="261.6" fill="none" stroke="#2a2a2a" stroke-width="2"/><line x1="86.6" y1="665" x2="86.6" y2="678.5" stroke="#1a1a1a" stroke-width="2"/><text x="86.6" y="709.3" text-anchor="middle" font-size="28.5" fill="#111">0</text><line x1="357.2" y1="665" x2="357.2" y2="678.5" stroke="#1a1a1a" stroke-width="2"/><text x="357.2" y="709.3" text-anchor="middle" font-size="28.5" fill="#111">50</text><line x1="627.8" y1="665" x2="627.8" y2="678.5" stroke="#1a1a1a" stroke-width="2"/><text x="627.8" y="709.3" text-anchor="middle" font-size="28.5" fill="#111">100</text><line x1="898.4" y1="665" x2="898.4" y2="678.5" stroke="#1a1a1a" stroke-width="2"/><text x="898.4" y="709.3" text-anchor="middle" font-size="28.5" fill="#111">150</text><line x1="1169" y1="665" x2="1169" y2="678.5" stroke="#1a1a1a" stroke-width="2"/><text x="1169" y="709.3" text-anchor="middle" font-size="28.5" fill="#111">200</text><line x1="221.9" y1="665" x2="221.9" y2="671.5" stroke="#1a1a1a" stroke-width="2"/><line x1="492.5" y1="665" x2="492.5" y2="671.5" stroke="#1a1a1a" stroke-width="2"/><line x1="763.1" y1="665" x2="763.1" y2="671.5" stroke="#1a1a1a" stroke-width="2"/><line x1="1033.7" y1="665" x2="1033.7" y2="671.5" stroke="#1a1a1a" stroke-width="2"/><line x1="73.8" y1="428.1" x2="86.6" y2="428.1" stroke="#1a1a1a" stroke-width="2"/><text x="65.5" y="436.3" text-anchor="end" font-size="28.5" fill="#111">100</text><line x1="73.8" y1="563" x2="86.6" y2="563" stroke="#1a1a1a" stroke-width="2"/><text x="65.5" y="571.2" text-anchor="end" font-size="28.5" fill="#111">50</text><line x1="79.5" y1="495.6" x2="86.6" y2="495.6" stroke="#1a1a1a" stroke-width="2"/><line x1="79.5" y1="630.5" x2="86.6" y2="630.5" stroke="#1a1a1a" stroke-width="2"/><text x="633" y="732.4" text-anchor="middle" font-size="30" fill="#111">Cycle number</text><text transform="translate(27.5,588) rotate(-90)" font-size="30.5" fill="#111">CE (%)</text><line x1="118" y1="500.3" x2="186" y2="500.3" stroke="#1a1a1a" stroke-width="1.2" opacity="0.55"/><circle cx="152.1" cy="500.3" r="7.3" fill="#1a1a1a" fill-opacity="0.7"/><line x1="118" y1="536.8" x2="186" y2="536.8" stroke="#ff0000" stroke-width="1.2" opacity="0.55"/><circle cx="152.1" cy="536.8" r="7.3" fill="#ff0000" fill-opacity="0.9"/><line x1="118" y1="573.7" x2="186" y2="573.7" stroke="#008000" stroke-width="1.2" opacity="0.55"/><circle cx="152.1" cy="573.7" r="7.3" fill="#008000" fill-opacity="0.72"/><line x1="118" y1="620.4" x2="186" y2="620.4" stroke="#ff8000" stroke-width="1.2" opacity="0.55"/><circle cx="152.1" cy="620.4" r="7.3" fill="#ff8000" fill-opacity="0.8"/><text x="194" y="510.4" font-size="30" fill="#111">Cu</text><text x="194" y="546.7" font-size="30" fill="#111">Ga@Cu</text><text x="194" y="583.8" font-size="30" fill="#111">Cu<tspan font-size="16.5" dy="11.8">0.7</tspan><tspan dy="-11.8">Zn</tspan><tspan font-size="16.5" dy="11.8">0.3</tspan></text><text x="194" y="631.3" font-size="30" fill="#111">CuGa<tspan font-size="16.5" dy="10.7">2</tspan></text><g clip-path="url(#sem1c)"><rect x="419.3" y="473.4" width="259.7" height="181.2" fill="url(#sem1g)"/><g filter="url(#blur3)"><ellipse cx="470" cy="490" rx="12" ry="5" fill="#6a6a6a"/><ellipse cx="535" cy="487" rx="25" ry="6" fill="#707070"/><ellipse cx="655" cy="492" rx="30" ry="7" fill="#6c6c6c"/><ellipse cx="600" cy="505" rx="45" ry="5" fill="#a8a8a8"/><ellipse cx="430" cy="506" rx="10" ry="9" fill="#6e6e6e"/><ellipse cx="560" cy="500" rx="20" ry="4" fill="#767676"/><ellipse cx="640" cy="512" rx="35" ry="4" fill="#b0b0b0"/><ellipse cx="470" cy="512" rx="40" ry="4" fill="#a4a4a4"/></g><polygon points="419.3,517 445.3,520 447.3,537 419.3,538" fill="#444"/><polygon points="462.8,512.7 494.1,517 491.3,528 464.3,529.8" fill="#444"/><polygon points="502.3,518 519.3,518 519.3,528 502.3,528" fill="#444"/><polygon points="522.3,512.7 570.3,510 573.3,525.5 525.3,528" fill="#444"/><polygon points="570.3,517 616.3,515.5 619.3,531 570.3,532.6" fill="#444"/><polygon points="604.8,510 679.3,505.6 679.3,522.7 607.3,527" fill="#444"/><polygon points="419.3,537 451.3,539.7 482.3,548 477,556.8 419.3,554" fill="#444"/><polygon points="494.1,531 562.3,531 567.9,542.5 496.9,548" fill="#444"/><polygon points="565.1,534 599.2,534 599.2,545 565.1,545" fill="#444"/><polygon points="599.2,539.7 679.3,542.5 679.3,556.8 602,554" fill="#444"/><polygon points="451.3,549.7 522.3,551 525.3,559.6 457.3,568" fill="#444"/><polygon points="419.3,559.6 448.3,565 457.1,582 434.3,590.8 419.3,588" fill="#444"/><polygon points="457.1,551 516.8,548 525.3,565 513.9,585 462.8,582" fill="#444"/><polygon points="516.8,559.6 573.3,562 579.3,576.6 567.9,590.8 519.3,585" fill="#444"/><polygon points="570.3,554 602,551 604.8,571 596.3,588 573.3,588" fill="#444"/><polygon points="590.3,548 641.8,548 641.8,562 621.9,588 590.3,588" fill="#444"/><polygon points="641.8,565 679.3,568 679.3,599 650.3,596.5" fill="#444"/><polygon points="457.1,579.5 553.3,582 555.1,602 462.8,605" fill="#444"/><polygon points="419,514 445,517 447,534 419,535" fill="#7c7c7c" stroke="#c4c4c4" stroke-width="0.7" stroke-opacity="0.8"/><polygon points="462.5,509.7 493.8,514 491,525 464,526.8" fill="#6c6c6c" stroke="#c4c4c4" stroke-width="0.7" stroke-opacity="0.8"/><polygon points="502,515 519,515 519,525 502,525" fill="#747474" stroke="#c4c4c4" stroke-width="0.7" stroke-opacity="0.8"/><polygon points="522,509.7 570,507 573,522.5 525,525" fill="#7a7a7a" stroke="#c4c4c4" stroke-width="0.7" stroke-opacity="0.8"/><polygon points="570,514 616,512.5 619,528 570,529.6" fill="#767676" stroke="#c4c4c4" stroke-width="0.7" stroke-opacity="0.8"/><polygon points="604.5,507 679,502.6 679,519.7 607,524" fill="#8e8e8e" stroke="#c4c4c4" stroke-width="0.7" stroke-opacity="0.8"/><polygon points="419,534 451,536.7 482,545 476.7,553.8 419,551" fill="#9a9a9a" stroke="#c4c4c4" stroke-width="0.7" stroke-opacity="0.8"/><polygon points="493.8,528 562,528 567.6,539.5 496.6,545" fill="#888888" stroke="#c4c4c4" stroke-width="0.7" stroke-opacity="0.8"/><polygon points="564.8,531 598.9,531 598.9,542 564.8,542" fill="#7a7a7a" stroke="#c4c4c4" stroke-width="0.7" stroke-opacity="0.8"/><polygon points="598.9,536.7 679,539.5 679,553.8 601.7,551" fill="#9a9a9a" stroke="#c4c4c4" stroke-width="0.7" stroke-opacity="0.8"/><polygon points="451,546.7 522,548 525,556.6 457,565" fill="#8c8c8c" stroke="#c4c4c4" stroke-width="0.7" stroke-opacity="0.8"/><polygon points="419,556.6 448,562 456.8,579 434,587.8 419,585" fill="#8a8a8a" stroke="#c4c4c4" stroke-width="0.7" stroke-opacity="0.8"/><polygon points="456.8,548 516.5,545 525,562 513.6,582 462.5,579" fill="#9a9a9a" stroke="#c4c4c4" stroke-width="0.7" stroke-opacity="0.8"/><polygon points="516.5,556.6 573,559 579,573.6 567.6,587.8 519,582" fill="#7c7c7c" stroke="#c4c4c4" stroke-width="0.7" stroke-opacity="0.8"/><polygon points="570,551 601.7,548 604.5,568 596,585 573,585" fill="#727272" stroke="#c4c4c4" stroke-width="0.7" stroke-opacity="0.8"/><polygon points="590,545 641.5,545 641.5,559 621.6,585 590,585" fill="#848484" stroke="#c4c4c4" stroke-width="0.7" stroke-opacity="0.8"/><polygon points="641.5,562 679,565 679,596 650,593.5" fill="#7a7a7a" stroke="#c4c4c4" stroke-width="0.7" stroke-opacity="0.8"/><polygon points="456.8,576.5 553,579 554.8,599 462.5,602" fill="#8a8a8a" stroke="#c4c4c4" stroke-width="0.7" stroke-opacity="0.8"/><polygon points="419.3,600 470,603 520,598 560,600 600,592 640,596 679,598 679,655 419.3,655" fill="#6a6a6a"/><g filter="url(#rough)"><ellipse cx="450" cy="606" rx="30" ry="6" fill="#454545"/><ellipse cx="600" cy="604" rx="50" ry="5" fill="#4a4a4a"/><ellipse cx="545" cy="640" rx="18" ry="12" fill="#525252"/><ellipse cx="640" cy="635" rx="14" ry="14" fill="#555"/><ellipse cx="660" cy="615" rx="10" ry="6" fill="#8a8a8a"/></g><rect x="419.3" y="596" width="259.7" height="60" fill="#000" filter="url(#noise1)" opacity="0.25"/><rect x="419.3" y="596" width="259.7" height="60" filter="url(#noiseL)" opacity="0.3"/><rect x="419.3" y="473.4" width="259.7" height="181.2" fill="#000" filter="url(#noise1)" opacity="0.06"/></g><text x="440" y="625.5" font-weight="bold" font-size="26" fill="#ffc000" transform="translate(440,0) scale(1.06,1) translate(-440,0)">CuGa<tspan font-size="17" dy="6">2</tspan><tspan dy="-6"> grains</tspan></text><g clip-path="url(#sem2c)"><rect x="846" y="477.3" width="266.6" height="182.9" fill="#5e5e5e"/><g filter="url(#blur2)"><rect x="846" y="477" width="267" height="100" fill="#747474"/><rect x="846" y="595" width="190" height="70" fill="#525252"/><ellipse cx="1075" cy="615" rx="45" ry="45" fill="#666"/></g><g filter="url(#rough2)" fill="#3a3a3a"><polygon points="945,525 962,512 975,520 968,548 950,552"/><polygon points="995,540 1030,535 1045,545 1030,560 1000,558"/><polygon points="1040,480 1062,478 1058,500 1045,505"/><polygon points="1040,520 1052,515 1050,570 1038,575"/><polygon points="846,555 880,550 900,600 870,600 846,590"/><polygon points="1080,560 1105,545 1113,560 1100,600 1080,590"/></g><g filter="url(#rough2)"><polygon points="869,495 900,490 925,505 945,530 930,550 895,552 875,535 866,515" fill="#9a9a9a" stroke="#bdbdbd" stroke-width="1.5" stroke-opacity="0.75"/><polygon points="846,480 875,478 880,500 866,525 846,530" fill="#858585" stroke="#bdbdbd" stroke-width="1.5" stroke-opacity="0.75"/><polygon points="905,480 960,478 1025,480 1030,500 990,505 955,500 925,498" fill="#7e7e7e" stroke="#bdbdbd" stroke-width="1.5" stroke-opacity="0.75"/><polygon points="965,510 1000,505 1030,515 1025,540 995,545 970,540" fill="#8c8c8c" stroke="#bdbdbd" stroke-width="1.5" stroke-opacity="0.75"/><polygon points="1048,495 1068,485 1090,490 1105,515 1090,545 1065,550 1050,530" fill="#9a9a9a" stroke="#bdbdbd" stroke-width="1.5" stroke-opacity="0.75"/><polygon points="1090,480 1113,478 1113,520 1100,515" fill="#8e8e8e" stroke="#bdbdbd" stroke-width="1.5" stroke-opacity="0.75"/><polygon points="1055,555 1085,550 1113,560 1113,600 1090,610 1065,595" fill="#8e8e8e" stroke="#bdbdbd" stroke-width="1.5" stroke-opacity="0.75"/><polygon points="906,552 940,548 975,560 975,585 945,595 912,588" fill="#929292" stroke="#bdbdbd" stroke-width="1.5" stroke-opacity="0.75"/><polygon points="846,565 870,562 885,580 875,598 846,600" fill="#8a8a8a" stroke="#bdbdbd" stroke-width="1.5" stroke-opacity="0.75"/><polygon points="985,555 1020,550 1045,575 1040,600 1005,598 990,580" fill="#7e7e7e" stroke="#bdbdbd" stroke-width="1.5" stroke-opacity="0.75"/><polygon points="1030,600 1070,605 1090,640 1060,660 1030,650" fill="#6c6c6c" stroke="#bdbdbd" stroke-width="1.5" stroke-opacity="0.75"/><polygon points="1090,615 1113,610 1113,660 1095,660" fill="#7a7a7a" stroke="#bdbdbd" stroke-width="1.5" stroke-opacity="0.75"/></g><rect x="846" y="477.3" width="266.6" height="182.9" fill="#000" filter="url(#noise1)" opacity="0.18"/><rect x="846" y="477.3" width="266.6" height="182.9" filter="url(#noiseL)" opacity="0.12"/></g><text x="859" y="610" font-weight="bold" font-size="26" fill="#ffc000" transform="translate(859,0) scale(1.06,1) translate(-859,0)">Li wrapped</text><text x="859" y="646.3" font-weight="bold" font-size="26" fill="#ffc000" transform="translate(859,0) scale(1.06,1) translate(-859,0)">CuGa<tspan font-size="17" dy="6">2</tspan><tspan dy="-6"> grains</tspan></text><polygon points="714.2,562.8 720.3,568.2 714.2,573.9 791.8,573.9 791.8,579.5 803,568.2 791.8,556.8 791.8,562.8" fill="#ffc000" stroke="#ed7d31" stroke-width="1.2"/>
</svg></body></html>
